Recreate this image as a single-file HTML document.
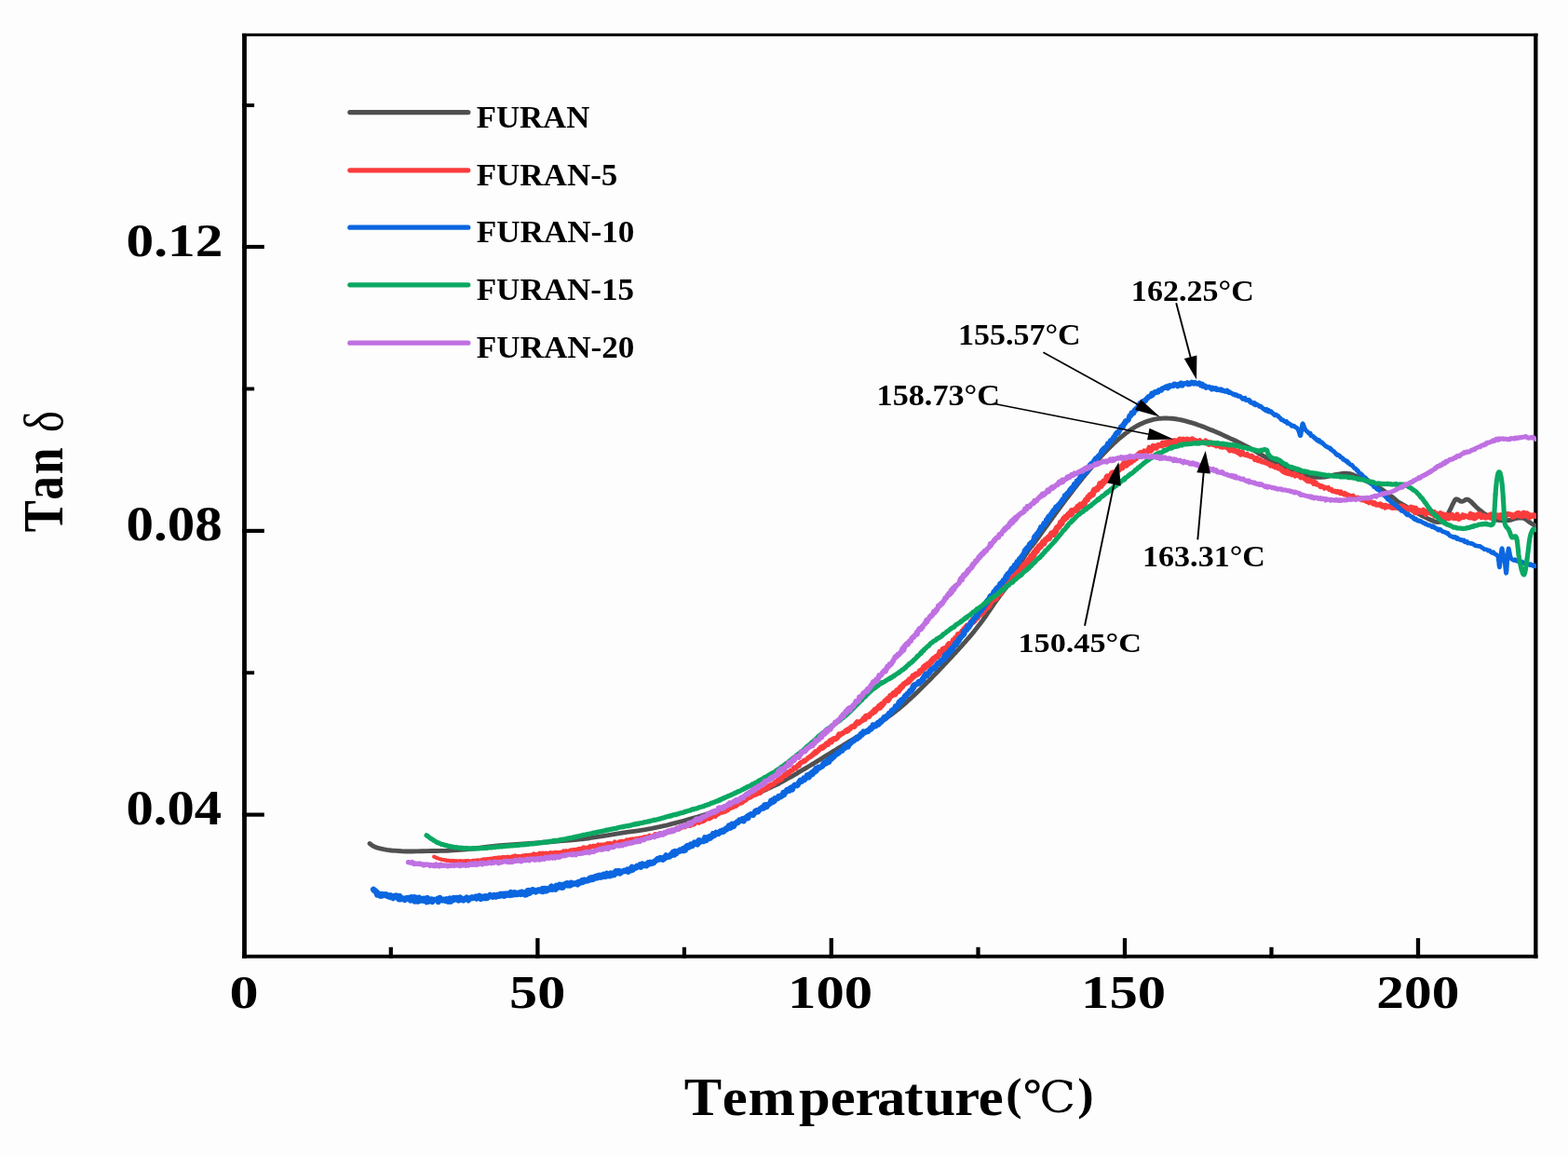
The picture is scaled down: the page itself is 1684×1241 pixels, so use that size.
<!DOCTYPE html>
<html lang="en"><head><meta charset="utf-8"><title>Tan δ vs Temperature</title>
<style>html,body{margin:0;padding:0;background:#fdfdfd;}body{width:1684px;height:1241px;overflow:hidden;}svg{display:block;}</style>
</head><body>
<svg width="1684" height="1241" viewBox="0 0 1684 1241">
<rect width="1684" height="1241" fill="#fdfdfd"/>
<g fill="#000">
<rect x="260.1" y="35.85" width="4.80" height="992.85"/>
<rect x="1647.2" y="35.85" width="4.30" height="992.85"/>
<rect x="260.1" y="35.85" width="1391.40" height="3.10"/>
<rect x="260.1" y="1024.8" width="1391.40" height="3.90"/>
<rect x="260.1" y="262.90" width="23.70" height="4.2"/>
<rect x="260.1" y="567.80" width="23.70" height="4.2"/>
<rect x="260.1" y="872.50" width="23.70" height="4.2"/>
<rect x="260.1" y="111.15" width="13.00" height="3.9"/>
<rect x="260.1" y="415.50" width="13.00" height="3.9"/>
<rect x="260.1" y="720.30" width="13.00" height="3.9"/>
<rect x="575.25" y="1007.1" width="4.3" height="21.60"/>
<rect x="890.65" y="1007.1" width="4.3" height="21.60"/>
<rect x="1205.85" y="1007.1" width="4.3" height="21.60"/>
<rect x="1520.85" y="1007.1" width="4.3" height="21.60"/>
<rect x="417.70" y="1016.8" width="4.2" height="11.90"/>
<rect x="732.80" y="1016.8" width="4.2" height="11.90"/>
<rect x="1048.40" y="1016.8" width="4.2" height="11.90"/>
<rect x="1363.40" y="1016.8" width="4.2" height="11.90"/>
</g>
<g>
<text transform="matrix(0.5934 0 0 0.5132 135.53 275.47)" font-family='"Liberation Serif", serif' font-weight="bold" font-size="100" fill="#000">0.12</text>
<text transform="matrix(0.5899 0 0 0.5209 135.54 580.36)" font-family='"Liberation Serif", serif' font-weight="bold" font-size="100" fill="#000">0.08</text>
<text transform="matrix(0.5864 0 0 0.5209 135.55 885.06)" font-family='"Liberation Serif", serif' font-weight="bold" font-size="100" fill="#000">0.04</text>
<text transform="matrix(0.6214 0 0 0.5060 246.51 1082.29)" font-family='"Liberation Serif", serif' font-weight="bold" font-size="100" fill="#000">0</text>
<text transform="matrix(0.6011 0 0 0.5060 547.10 1082.29)" font-family='"Liberation Serif", serif' font-weight="bold" font-size="100" fill="#000">50</text>
<text transform="matrix(0.6072 0 0 0.4985 846.04 1082.30)" font-family='"Liberation Serif", serif' font-weight="bold" font-size="100" fill="#000">100</text>
<text transform="matrix(0.6072 0 0 0.4985 1161.04 1082.30)" font-family='"Liberation Serif", serif' font-weight="bold" font-size="100" fill="#000">150</text>
<text transform="matrix(0.5937 0 0 0.5060 1478.33 1082.29)" font-family='"Liberation Serif", serif' font-weight="bold" font-size="100" fill="#000">200</text>
</g>
<text transform="matrix(0.6058 0 0 0.5616 0 1196.61)" font-family='"Liberation Serif", serif' font-weight="bold" font-size="100" fill="#000"><tspan x="1212.96 1280.66 1326.36 1416.39 1471.89 1516.12 1554.97 1603.08 1638.14 1692.49 1734.33" y="0">Temperature</tspan><tspan x="1783.23" y="-9.91" font-size="86">(</tspan><tspan x="1813.14" y="-4.43" font-family='"DejaVu Serif", "Noto Serif CJK SC", serif' font-weight="normal" font-size="84">℃</tspan><tspan x="1910.28" y="-9.91" font-size="86">)</tspan></text>
<text transform="matrix(0 -0.5117 0.6136 0 66.79 0)" font-family='"Liberation Serif", serif' font-weight="bold" font-size="100" fill="#000" xml:space="preserve"><tspan x="-1116.18 -1049.06 -994.61 -934.61" y="0">Tan </tspan><tspan x="-906.94" y="-0.20" font-weight="normal" font-size="95">δ</tspan></text>
<line x1="375.8" y1="120.6" x2="502.8" y2="120.6" stroke="#505050" stroke-width="5.2" stroke-linecap="round"/>
<text transform="matrix(0.3476 0 0 0.3273 511.70 136.70)" font-family='"Liberation Serif", serif' font-weight="bold" font-size="100" fill="#000">FURAN</text>
<line x1="375.8" y1="182.8" x2="502.8" y2="182.8" stroke="#fb3c3c" stroke-width="5.2" stroke-linecap="round"/>
<text transform="matrix(0.3500 0 0 0.3273 511.70 198.90)" font-family='"Liberation Serif", serif' font-weight="bold" font-size="100" fill="#000">FURAN-5</text>
<line x1="375.8" y1="244.2" x2="502.8" y2="244.2" stroke="#0b66e0" stroke-width="5.2" stroke-linecap="round"/>
<text transform="matrix(0.3514 0 0 0.3273 511.70 260.00)" font-family='"Liberation Serif", serif' font-weight="bold" font-size="100" fill="#000">FURAN-10</text>
<line x1="375.8" y1="305.8" x2="502.8" y2="305.8" stroke="#0aa862" stroke-width="5.2" stroke-linecap="round"/>
<text transform="matrix(0.3506 0 0 0.3273 511.70 322.00)" font-family='"Liberation Serif", serif' font-weight="bold" font-size="100" fill="#000">FURAN-15</text>
<line x1="375.8" y1="368.2" x2="502.8" y2="368.2" stroke="#bf70e2" stroke-width="5.2" stroke-linecap="round"/>
<text transform="matrix(0.3514 0 0 0.3273 511.70 383.90)" font-family='"Liberation Serif", serif' font-weight="bold" font-size="100" fill="#000">FURAN-20</text>
<defs><clipPath id="cp"><rect x="262" y="37" width="1388" height="990"/></clipPath></defs>
<g clip-path="url(#cp)" fill="none" stroke-linejoin="round" stroke-linecap="round">
<path d="M397.1 905.6 L398.0 906.3 L399.2 907.2 L400.7 908.2 L402.8 909.2 L405.3 910.1 L408.2 910.9 L411.6 911.7 L415.6 912.4 L420.3 913.0 L425.8 913.4 L431.4 913.8 L437.0 914.0 L442.4 914.0 L447.7 913.9 L453.1 913.7 L458.4 913.6 L463.6 913.5 L468.7 913.5 L474.0 913.4 L479.8 913.2 L486.4 912.8 L493.6 912.3 L501.0 911.7 L508.3 911.0 L515.4 910.2 L522.5 909.3 L529.7 908.5 L536.8 907.7 L543.9 907.1 L551.0 906.6 L558.2 906.1 L565.3 905.6 L572.5 905.1 L579.7 904.6 L586.8 904.0 L593.8 903.5 L600.8 902.9 L607.8 902.4 L614.4 901.8 L620.0 901.3 L623.8 900.9 L626.2 900.7 L628.9 900.3 L633.3 899.7 L640.2 898.6 L648.6 897.3 L657.7 895.8 L666.5 894.4 L674.8 893.2 L683.1 892.1 L691.5 890.8 L699.8 889.4 L708.1 887.7 L716.4 885.8 L724.7 883.7 L733.0 881.5 L741.3 879.2 L749.6 876.9 L758.0 874.3 L766.3 871.5 L774.6 868.4 L783.0 865.0 L791.3 861.5 L799.5 858.0 L808.1 854.2 L817.0 850.2 L825.1 846.5 L831.3 843.6 L834.8 842.0 L836.4 841.2 L837.1 840.7 L838.3 840.0 L840.1 839.1 L841.8 838.1 L843.6 837.2 L845.3 836.2 L847.1 835.2 L848.8 834.3 L850.6 833.3 L852.3 832.3 L854.1 831.3 L855.8 830.3 L857.6 829.2 L859.3 828.2 L861.1 827.2 L862.8 826.2 L864.6 825.1 L866.3 824.1 L868.1 823.0 L869.8 822.0 L871.6 820.9 L873.4 819.8 L875.1 818.8 L876.9 817.7 L878.6 816.6 L880.4 815.6 L882.1 814.5 L883.9 813.4 L885.6 812.3 L887.4 811.2 L889.1 810.2 L890.9 809.1 L892.6 808.0 L894.4 806.9 L896.1 805.8 L897.9 804.8 L899.6 803.7 L901.4 802.6 L903.1 801.6 L904.9 800.5 L906.6 799.4 L908.4 798.4 L910.1 797.3 L911.9 796.2 L913.6 795.2 L915.4 794.2 L917.2 793.1 L918.9 792.1 L920.7 791.0 L922.4 790.0 L924.2 788.9 L925.9 787.9 L927.7 786.8 L929.4 785.7 L931.2 784.7 L932.9 783.6 L934.7 782.5 L936.4 781.4 L938.2 780.3 L939.9 779.1 L941.7 778.0 L943.4 776.8 L945.2 775.7 L946.9 774.5 L948.7 773.3 L950.4 772.1 L952.2 770.8 L953.9 769.6 L955.7 768.3 L957.5 767.0 L959.2 765.6 L961.0 764.3 L962.7 762.9 L964.5 761.5 L966.2 760.1 L968.0 758.6 L969.7 757.1 L971.5 755.6 L973.2 754.1 L975.0 752.5 L976.7 750.9 L978.5 749.3 L980.2 747.7 L982.0 746.1 L983.7 744.4 L985.5 742.7 L987.2 741.0 L989.0 739.3 L990.7 737.6 L992.5 735.8 L994.2 734.1 L996.0 732.3 L997.8 730.5 L999.5 728.7 L1001.3 726.9 L1003.0 725.1 L1004.8 723.3 L1006.5 721.5 L1008.3 719.7 L1010.0 717.8 L1011.8 716.0 L1013.5 714.1 L1015.3 712.3 L1017.0 710.4 L1018.8 708.6 L1020.5 706.7 L1022.3 704.8 L1024.0 702.9 L1025.8 701.0 L1027.5 699.1 L1029.3 697.2 L1031.0 695.2 L1032.8 693.3 L1034.5 691.3 L1036.3 689.4 L1038.0 687.4 L1039.8 685.4 L1041.6 683.3 L1043.3 681.3 L1045.1 679.2 L1046.8 677.0 L1048.6 674.8 L1050.3 672.6 L1052.1 670.3 L1053.8 668.0 L1055.6 665.7 L1057.3 663.2 L1059.1 660.7 L1060.8 658.1 L1062.6 655.6 L1064.3 653.0 L1066.1 650.4 L1067.8 647.9 L1069.6 645.4 L1071.3 643.0 L1073.1 640.6 L1074.8 638.3 L1076.6 635.9 L1078.3 633.5 L1080.1 631.1 L1081.9 628.6 L1083.6 626.0 L1085.4 623.3 L1087.1 620.4 L1088.9 617.4 L1090.6 614.4 L1092.4 611.2 L1094.1 608.0 L1095.9 604.7 L1097.6 601.6 L1099.4 598.7 L1101.1 596.0 L1102.9 593.3 L1104.6 590.8 L1106.4 588.4 L1108.1 586.2 L1109.9 584.1 L1111.6 581.8 L1113.4 579.4 L1115.1 577.0 L1116.9 574.5 L1118.6 572.1 L1120.4 569.6 L1122.2 567.2 L1123.9 564.8 L1125.7 562.3 L1127.4 559.9 L1129.2 557.5 L1130.9 555.1 L1132.7 552.7 L1134.4 550.3 L1136.2 547.9 L1137.9 545.5 L1139.7 543.1 L1141.4 540.8 L1143.2 538.4 L1144.9 536.1 L1146.7 533.8 L1148.4 531.5 L1150.2 529.2 L1151.9 526.9 L1153.7 524.6 L1155.4 522.4 L1157.2 520.1 L1158.9 517.9 L1160.7 515.7 L1162.4 513.5 L1164.2 511.3 L1166.0 509.2 L1167.7 507.1 L1169.5 504.9 L1171.2 502.9 L1173.0 500.8 L1174.7 498.7 L1176.5 496.7 L1178.2 494.7 L1180.0 492.8 L1181.7 490.8 L1183.5 488.9 L1185.2 487.0 L1187.0 485.2 L1188.7 483.4 L1190.5 481.6 L1192.2 479.9 L1194.0 478.2 L1195.7 476.5 L1197.5 474.9 L1199.2 473.3 L1201.0 471.7 L1202.7 470.2 L1204.5 468.8 L1206.3 467.3 L1208.0 466.0 L1209.8 464.6 L1211.5 463.4 L1213.3 462.1 L1215.0 460.9 L1216.8 459.8 L1218.5 458.7 L1220.3 457.7 L1222.0 456.7 L1223.8 455.8 L1225.5 455.0 L1227.3 454.2 L1229.0 453.4 L1230.8 452.7 L1232.5 452.1 L1234.3 451.6 L1236.0 451.1 L1237.8 450.6 L1239.5 450.2 L1241.3 449.9 L1243.0 449.6 L1244.8 449.4 L1246.6 449.2 L1248.3 449.1 L1250.1 449.0 L1251.8 449.0 L1253.6 449.0 L1255.3 449.1 L1257.1 449.2 L1258.8 449.3 L1260.6 449.5 L1262.3 449.7 L1264.1 450.0 L1265.8 450.3 L1267.6 450.6 L1269.3 451.0 L1271.1 451.4 L1272.8 451.8 L1274.6 452.3 L1276.3 452.8 L1278.1 453.3 L1279.8 453.8 L1281.6 454.4 L1283.3 454.9 L1285.1 455.5 L1286.8 456.2 L1288.6 456.8 L1290.4 457.4 L1292.1 458.1 L1293.9 458.8 L1295.6 459.5 L1297.4 460.2 L1299.1 460.9 L1300.9 461.6 L1302.6 462.3 L1304.4 463.1 L1306.1 463.8 L1307.9 464.6 L1309.6 465.3 L1311.4 466.1 L1313.1 466.9 L1314.9 467.7 L1316.6 468.5 L1318.4 469.3 L1320.1 470.1 L1321.9 470.9 L1323.4 471.6 L1324.8 472.2 L1326.5 473.0 L1328.9 474.2 L1332.4 476.0 L1336.7 478.2 L1341.2 480.5 L1345.4 482.7 L1349.0 484.8 L1352.3 486.8 L1355.7 488.9 L1359.6 491.2 L1364.4 493.9 L1369.8 496.8 L1375.2 499.6 L1380.0 502.0 L1383.9 503.9 L1387.4 505.4 L1390.6 506.8 L1394.0 508.0 L1397.6 509.2 L1401.2 510.4 L1404.9 511.3 L1408.5 512.0 L1412.1 512.3 L1415.7 512.4 L1419.2 512.3 L1422.8 512.0 L1426.4 511.4 L1430.1 510.6 L1433.6 509.7 L1437.0 509.1 L1440.1 508.7 L1443.0 508.3 L1445.7 508.2 L1448.4 508.4 L1451.1 509.0 L1453.7 509.9 L1456.1 511.0 L1458.4 512.0 L1460.2 512.8 L1461.7 513.6 L1463.4 514.5 L1465.6 515.6 L1468.7 517.1 L1472.3 518.8 L1476.1 520.6 L1479.8 522.7 L1483.5 525.1 L1487.4 527.8 L1491.0 530.4 L1494.1 532.7 L1496.4 534.5 L1498.1 535.9 L1499.6 537.2 L1501.2 538.4 L1502.8 539.5 L1504.3 540.4 L1506.0 541.4 L1508.3 542.7 L1511.4 544.6 L1515.0 546.8 L1518.9 549.1 L1522.6 551.2 L1526.3 553.2 L1530.2 555.1 L1533.8 556.9 L1536.9 558.3 L1539.2 559.3 L1540.9 560.0 L1542.4 560.4 L1544.0 560.5 L1545.8 560.4 L1547.6 560.2 L1549.4 559.5 L1551.1 558.3 L1552.6 556.4 L1554.0 553.9 L1555.4 551.2 L1556.8 548.4 L1558.3 545.4 L1559.8 542.1 L1561.3 539.1 L1562.5 537.0 L1563.4 536.0 L1564.0 535.8 L1564.6 535.9 L1565.4 536.2 L1566.3 536.6 L1567.4 537.4 L1568.5 538.1 L1569.7 538.4 L1571.1 538.1 L1572.6 537.3 L1574.0 536.5 L1575.4 536.2 L1576.5 536.3 L1577.4 536.7 L1578.4 537.4 L1579.6 538.4 L1581.2 539.9 L1583.0 541.7 L1584.9 543.7 L1586.8 545.5 L1588.6 547.1 L1590.4 548.5 L1592.1 549.9 L1593.9 551.2 L1595.7 552.4 L1597.4 553.5 L1599.2 554.6 L1601.0 555.5 L1602.7 556.4 L1604.3 557.2 L1606.0 557.8 L1608.2 558.3 L1611.0 558.6 L1614.3 558.7 L1617.6 558.7 L1620.5 558.5 L1622.8 558.1 L1624.8 557.5 L1626.7 556.8 L1628.6 556.4 L1630.6 556.1 L1632.7 556.0 L1634.7 556.0 L1636.6 556.4 L1638.3 557.2 L1639.9 558.4 L1641.5 559.7 L1643.1 560.9 L1644.9 562.0 L1646.7 563.2 L1648.4 564.2 L1649.5 564.9" stroke="#505050" stroke-width="4.9"/>
<g stroke="#fb3c3c"><path d="M466.2 919.7 L467.0 920.0 L467.8 920.4 L468.6 920.8 L469.4 921.3 L470.2 921.3 L471.1 921.8 L471.9 922.0 L472.8 922.2 L473.7 922.5 L474.6 922.8 L475.4 923.0 L476.3 923.0 L477.2 923.4 L478.1 923.3 L479.0 923.2 L479.9 923.9 L480.8 923.7 L481.7 923.7 L482.6 924.1 L483.5 924.1 L484.4 924.2 L485.3 924.0 L486.2 924.3 L487.1 924.0 L488.0 924.7 L488.9 924.1 L489.8 924.4 L490.7 924.4 L491.6 924.5 L492.5 924.4 L493.4 924.6 L494.3 924.1 L495.2 924.5 L496.1 924.5 L497.0 924.4 L497.9 924.9 L498.8 924.3 L499.7 924.5 L500.6 924.1 L501.5 924.6 L502.4 924.1 L503.3 924.1 L504.2 924.9 L505.1 924.6 L505.9 924.4 L506.8 924.4 L507.7 923.9 L508.6 923.9 L509.5 924.3 L510.4 923.6 L511.3 924.1 L512.2 923.4 L513.1 923.8 L514.0 923.3 L514.9 924.0 L515.8 923.7 L516.7 923.1 L517.6 922.7 L518.5 922.8 L519.4 922.9" stroke-width="4.13"/><path d="M519.4 922.9 L520.3 922.5 L521.2 922.8 L522.0 922.9 L522.9 922.5 L523.8 922.3 L524.7 922.6 L525.6 922.1 L526.5 922.4 L527.4 921.9 L528.3 922.5 L529.2 921.7 L530.1 921.4 L531.0 921.7 L531.9 921.3 L532.8 921.1 L533.7 921.3 L534.6 921.5 L535.5 920.6 L536.4 921.0 L537.3 920.9 L538.2 920.8 L539.0 921.1 L539.9 920.2 L540.8 920.8 L541.7 920.4 L542.6 920.4 L543.5 920.2 L544.4 920.1 L545.3 919.9 L546.2 920.2 L547.1 920.7 L548.0 920.3 L548.9 920.1 L549.8 919.9 L550.7 919.4 L551.6 919.7 L552.5 920.2 L553.4 918.8 L554.3 919.6 L555.2 919.6 L556.1 919.2 L557.0 919.3 L557.9 919.5 L558.8 919.6 L559.6 919.3 L560.5 919.4 L561.4 918.7 L562.3 918.9 L563.2 918.5 L564.1 918.5 L565.0 918.1 L565.9 918.5 L566.8 918.8 L567.7 918.0 L568.6 918.1 L569.5 918.2 L570.4 917.8 L571.3 918.2 L572.2 917.8 L573.1 917.0" stroke-width="4.66"/><path d="M573.1 917.0 L574.0 917.0 L574.9 917.7 L575.8 917.6 L576.7 917.8 L577.6 917.3 L578.5 917.2 L579.4 916.2 L580.3 917.6 L581.2 916.4 L582.1 917.3 L583.0 916.1 L583.9 916.3 L584.7 916.6 L585.6 916.3 L586.5 916.0 L587.4 916.8 L588.3 916.6 L589.2 916.4 L590.1 916.0 L591.0 915.6 L591.9 915.7 L592.8 915.7 L593.7 915.8 L594.6 916.2 L595.5 915.6 L596.4 915.2 L597.3 915.2 L598.2 916.1 L599.1 915.5 L600.0 915.4 L600.9 915.4 L601.8 915.4 L602.7 915.1 L603.6 915.5 L604.5 915.2 L605.4 913.8 L606.3 914.5 L607.2 915.4 L608.0 913.7 L608.9 914.3 L609.8 914.7 L610.7 913.9 L611.6 914.5 L612.5 913.0 L613.4 912.8 L614.3 913.2 L615.1 912.8 L616.0 912.4 L616.9 913.1 L617.8 912.8 L618.7 912.4 L619.5 912.0 L620.4 912.2 L621.3 911.8 L622.2 911.3 L623.1 911.8 L623.9 911.5 L624.8 911.1 L625.7 911.3 L626.6 910.1" stroke-width="5.01"/><path d="M626.6 910.1 L627.5 910.5 L628.3 910.1 L629.2 910.9 L630.1 910.3 L631.0 910.8 L631.9 910.5 L632.8 909.3 L633.6 908.7 L634.5 909.5 L635.4 908.9 L636.3 908.8 L637.2 908.2 L638.1 908.9 L639.0 908.5 L639.9 908.5 L640.7 908.3 L641.6 907.5 L642.5 906.9 L643.4 907.5 L644.3 907.2 L645.2 907.1 L646.1 907.8 L647.0 907.1 L647.9 907.8 L648.7 906.9 L649.6 907.1 L650.5 906.8 L651.4 906.8 L652.3 905.6 L653.2 906.7 L654.1 906.0 L655.0 905.3 L655.8 906.0 L656.7 905.7 L657.6 906.1 L658.5 905.7 L659.4 905.3 L660.3 904.0 L661.2 905.7 L662.1 905.5 L662.9 904.9 L663.8 904.6 L664.7 904.9 L665.6 903.6 L666.5 904.3 L667.4 903.8 L668.3 903.0 L669.2 903.7 L670.0 903.5 L670.9 904.1 L671.8 903.5 L672.7 901.9 L673.6 901.7 L674.5 902.5 L675.4 902.3 L676.3 901.7 L677.1 901.2 L678.0 901.8 L678.9 901.1 L679.8 901.2" stroke-width="5.05"/><path d="M679.8 901.2 L680.7 902.0 L681.6 901.5 L682.5 900.7 L683.4 900.4 L684.2 900.7 L685.1 901.7 L686.0 900.2 L686.9 901.4 L687.8 899.7 L688.7 899.9 L689.5 900.3 L690.4 899.3 L691.3 899.6 L692.2 898.6 L693.1 899.5 L694.0 899.6 L694.8 898.4 L695.7 898.7 L696.6 898.2 L697.5 897.1 L698.4 899.1 L699.2 898.2 L700.1 898.1 L701.0 897.6 L701.9 897.3 L702.7 898.0 L703.6 895.7 L704.5 896.3 L705.3 896.0 L706.2 895.9 L707.1 896.3 L708.0 895.2 L708.8 894.6 L709.7 894.5 L710.6 895.2 L711.4 895.2 L712.3 894.9 L713.2 895.1 L714.0 893.6 L714.9 894.3 L715.8 893.9 L716.6 893.1 L717.5 892.5 L718.3 893.2 L719.2 892.0 L720.1 892.0 L720.9 891.3 L721.8 892.7 L722.7 891.3 L723.5 890.8 L724.4 890.7 L725.2 890.4 L726.1 890.4 L727.0 889.0 L727.8 889.0 L728.7 889.8 L729.5 889.9 L730.4 888.3 L731.2 888.7 L732.1 888.0" stroke-width="5.09"/><path d="M732.1 888.0 L733.0 887.0 L733.8 887.6 L734.7 886.9 L735.5 887.8 L736.4 886.9 L737.2 886.7 L738.1 885.5 L738.9 886.2 L739.8 884.8 L740.7 885.7 L741.5 886.2 L742.4 884.3 L743.2 885.3 L744.1 885.3 L744.9 884.0 L745.8 884.6 L746.6 883.6 L747.5 883.0 L748.3 881.9 L749.2 882.0 L750.0 881.5 L750.9 883.2 L751.7 881.9 L752.6 881.4 L753.4 880.3 L754.2 881.9 L755.1 879.8 L755.9 881.2 L756.8 880.6 L757.6 879.7 L758.5 878.9 L759.3 878.9 L760.1 877.8 L761.0 878.7 L761.8 879.0 L762.6 878.2 L763.5 877.9 L764.3 876.5 L765.1 876.8 L766.0 875.6 L766.8 875.6 L767.6 876.0 L768.4 876.3 L769.3 874.8 L770.1 874.4 L770.9 872.9 L771.7 873.8 L772.5 872.7 L773.4 872.0 L774.2 871.6 L775.0 872.2 L775.8 871.5 L776.6 871.8 L777.4 870.8 L778.2 870.6 L779.0 871.1 L779.8 870.3 L780.6 869.9 L781.5 869.9 L782.3 868.7" stroke-width="5.13"/><path d="M782.3 868.7 L783.1 867.5 L783.9 867.3 L784.7 866.3 L785.5 867.2 L786.3 866.3 L787.1 866.4 L787.9 866.2 L788.7 864.8 L789.5 865.0 L790.3 865.3 L791.1 864.1 L791.8 864.2 L792.6 863.1 L793.4 862.1 L794.2 862.2 L795.0 860.7 L795.8 862.0 L796.6 860.7 L797.4 861.5 L798.2 859.4 L799.0 859.9 L799.8 859.6 L800.6 858.8 L801.3 858.7 L802.1 857.5 L802.9 856.9 L803.7 856.2 L804.5 856.4 L805.3 855.8 L806.1 856.0 L806.9 855.2 L807.7 854.6 L808.4 854.1 L809.2 852.9 L810.0 853.4 L810.8 853.5 L811.6 851.9 L812.3 852.2 L813.1 852.3 L813.9 851.0 L814.7 851.1 L815.5 850.2 L816.3 851.3 L817.0 850.6 L817.8 850.0 L818.6 848.2 L819.3 848.7 L820.1 847.7 L820.9 847.6 L821.7 846.5 L822.4 846.5 L823.2 845.4 L824.0 845.7 L824.7 846.2 L825.5 843.6 L826.3 843.1 L827.0 843.9 L827.8 843.6 L828.5 842.3 L829.3 842.5" stroke-width="5.17"/><path d="M829.3 842.5 L830.1 841.9 L830.8 841.5 L831.6 841.6 L832.3 839.7 L833.1 840.2 L833.8 839.3 L834.6 838.2 L835.3 838.5 L836.0 836.7 L836.8 836.1 L837.5 837.4 L838.3 835.3 L839.0 836.8 L839.7 835.8 L840.5 834.2 L841.2 833.4 L841.9 832.2 L842.6 832.9 L843.3 831.2 L844.1 832.9 L844.8 830.1 L845.5 830.8 L846.2 828.9 L846.9 829.4 L847.7 830.1 L848.4 828.2 L849.1 827.4 L849.8 827.1 L850.5 827.2 L851.2 827.0 L851.9 825.6 L852.6 824.0 L853.3 824.9 L854.0 824.8 L854.8 824.9 L855.5 823.2 L856.2 822.6 L856.9 821.5 L857.6 821.9 L858.3 822.1 L859.0 819.5 L859.7 819.8 L860.5 818.4 L861.2 818.1 L861.9 818.0 L862.6 817.9 L863.4 816.4 L864.1 816.3 L864.8 817.0 L865.5 815.8 L866.3 815.4 L867.0 814.7 L867.7 813.7 L868.4 813.6 L869.1 813.2 L869.9 812.2 L870.6 812.5 L871.3 811.2 L872.0 811.3 L872.8 810.1" stroke-width="5.21"/><path d="M872.8 810.1 L873.5 810.1 L874.2 808.5 L874.9 808.0 L875.7 807.0 L876.4 808.4 L877.1 807.3 L877.8 806.5 L878.5 806.3 L879.3 804.6 L880.0 804.8 L880.7 803.8 L881.4 802.3 L882.2 802.9 L882.9 801.9 L883.6 803.2 L884.3 800.9 L885.1 800.5 L885.8 801.3 L886.5 799.9 L887.3 798.3 L888.0 799.1 L888.7 797.7 L889.4 799.2 L890.2 796.4 L890.9 796.2 L891.6 794.8 L892.4 795.2 L893.1 796.7 L893.8 794.6 L894.6 793.3 L895.3 793.9 L896.0 792.9 L896.8 792.6 L897.5 793.6 L898.2 793.1 L899.0 792.4 L899.7 791.9 L900.4 789.2 L901.2 788.0 L901.9 789.6 L902.7 788.8 L903.4 788.0 L904.1 787.3 L904.9 787.6 L905.6 786.9 L906.4 786.2 L907.1 785.9 L907.9 784.7 L908.6 784.1 L909.4 785.2 L910.1 783.2 L910.9 784.5 L911.6 783.0 L912.4 782.0 L913.1 782.5 L913.9 780.5 L914.6 780.3 L915.4 779.7 L916.1 779.5 L916.9 779.6" stroke-width="5.44"/><path d="M916.9 779.6 L917.7 780.1 L918.4 778.5 L919.2 776.6 L919.9 776.3 L920.7 774.9 L921.4 776.7 L922.2 776.4 L922.9 775.4 L923.7 774.9 L924.4 774.6 L925.2 774.0 L925.9 773.7 L926.7 772.8 L927.4 771.1 L928.2 772.4 L928.9 772.3 L929.6 769.0 L930.4 769.8 L931.1 768.4 L931.8 769.4 L932.6 768.2 L933.3 769.3 L934.0 768.4 L934.8 766.4 L935.5 765.9 L936.2 765.2 L936.9 765.8 L937.6 763.8 L938.3 764.5 L939.0 762.2 L939.7 764.0 L940.4 762.9 L941.1 760.7 L941.8 760.5 L942.5 760.9 L943.2 760.4 L943.9 757.8 L944.6 759.2 L945.3 759.8 L945.9 757.3 L946.6 755.8 L947.3 757.8 L947.9 756.2 L948.6 755.5 L949.3 755.4 L949.9 752.9 L950.6 752.9 L951.2 751.8 L951.9 751.2 L952.6 751.4 L953.2 750.0 L953.9 752.1 L954.5 750.4 L955.2 750.1 L955.9 747.0 L956.5 747.8 L957.2 747.2 L957.8 747.0 L958.5 746.6 L959.2 744.8" stroke-width="5.67"/><path d="M959.2 744.8 L959.8 744.0 L960.5 745.3 L961.2 745.6 L961.8 745.0 L962.5 742.3 L963.2 741.2 L963.8 741.6 L964.5 741.2 L965.2 742.0 L965.9 739.3 L966.5 738.2 L967.2 739.5 L967.9 737.0 L968.6 736.3 L969.3 737.2 L969.9 735.8 L970.6 734.3 L971.3 734.6 L972.0 733.8 L972.7 733.4 L973.4 732.3 L974.0 733.1 L974.7 731.6 L975.4 730.7 L976.1 731.9 L976.8 729.2 L977.5 730.4 L978.2 729.6 L978.9 728.1 L979.5 728.1 L980.2 725.7 L980.9 727.0 L981.6 725.0 L982.3 724.6 L983.0 725.2 L983.7 723.6 L984.3 723.9 L985.0 723.7 L985.7 723.8 L986.4 722.5 L987.1 722.6 L987.8 720.1 L988.5 719.9 L989.1 720.4 L989.8 720.4 L990.5 719.0 L991.2 717.4 L991.9 716.2 L992.6 715.7 L993.2 717.4 L993.9 714.5 L994.6 714.7 L995.3 715.1 L996.0 714.3 L996.6 712.4 L997.3 714.6 L998.0 712.2 L998.7 711.7 L999.3 711.7 L1000.0 709.9" stroke-width="5.89"/><path d="M1000.0 709.9 L1000.7 710.4 L1001.3 708.9 L1002.0 707.5 L1002.7 706.8 L1003.3 707.7 L1004.0 706.7 L1004.7 705.8 L1005.3 704.9 L1006.0 704.5 L1006.7 705.1 L1007.3 704.8 L1008.0 702.7 L1008.7 702.7 L1009.3 699.8 L1010.0 699.9 L1010.6 699.8 L1011.3 698.9 L1012.0 700.1 L1012.6 696.7 L1013.3 698.6 L1013.9 698.2 L1014.6 698.9 L1015.2 695.7 L1015.9 696.1 L1016.6 696.7 L1017.2 695.4 L1017.9 692.7 L1018.5 692.8 L1019.2 691.2 L1019.8 692.0 L1020.5 692.1 L1021.1 692.2 L1021.8 690.7 L1022.4 690.4 L1023.1 690.0 L1023.7 687.2 L1024.4 688.3 L1025.0 688.0 L1025.6 686.1 L1026.3 684.6 L1026.9 685.2 L1027.6 684.6 L1028.2 684.5 L1028.9 681.1 L1029.5 682.1 L1030.1 683.9 L1030.8 682.7 L1031.4 680.4 L1032.1 679.6 L1032.7 679.0 L1033.3 677.6 L1034.0 677.6 L1034.6 677.4 L1035.2 675.4 L1035.9 676.1 L1036.5 675.8 L1037.1 673.4 L1037.8 673.7 L1038.4 671.9 L1039.0 673.0" stroke-width="6.02"/><path d="M1039.0 673.0 L1039.7 672.6 L1040.3 671.1 L1040.9 671.1 L1041.6 671.0 L1042.2 670.5 L1042.8 667.6 L1043.5 668.1 L1044.1 666.2 L1044.7 665.2 L1045.3 667.7 L1046.0 666.7 L1046.6 666.7 L1047.2 665.5 L1047.8 663.4 L1048.5 663.5 L1049.1 662.0 L1049.7 663.5 L1050.3 659.3 L1051.0 661.2 L1051.6 659.4 L1052.2 660.2 L1052.8 660.1 L1053.5 657.4 L1054.1 659.0 L1054.7 658.0 L1055.3 654.4 L1055.9 657.5 L1056.6 653.5 L1057.2 652.7 L1057.8 654.6 L1058.4 652.1 L1059.0 652.5 L1059.6 651.5 L1060.3 649.8 L1060.9 652.1 L1061.5 651.3 L1062.1 649.0 L1062.7 650.1 L1063.3 647.6 L1064.0 647.3 L1064.6 646.0 L1065.2 644.2 L1065.8 644.6 L1066.4 643.3 L1067.0 644.1 L1067.6 643.2 L1068.2 641.7 L1068.9 643.2 L1069.5 641.5 L1070.1 642.4 L1070.7 639.3 L1071.3 638.6 L1071.9 637.5 L1072.5 638.0 L1073.1 636.9 L1073.7 636.4 L1074.3 637.7 L1074.9 636.0 L1075.5 633.7 L1076.2 634.2" stroke-width="6.05"/><path d="M1076.2 634.2 L1076.8 632.8 L1077.4 632.1 L1078.0 631.5 L1078.6 631.1 L1079.2 631.1 L1079.8 630.9 L1080.4 629.1 L1081.0 627.5 L1081.6 627.7 L1082.2 626.8 L1082.8 626.1 L1083.4 624.3 L1084.0 624.9 L1084.6 622.3 L1085.2 625.2 L1085.8 623.9 L1086.4 623.2 L1087.0 620.6 L1087.6 621.3 L1088.2 621.8 L1088.8 619.4 L1089.4 617.8 L1090.0 618.2 L1090.6 615.6 L1091.2 618.1 L1091.8 616.8 L1092.4 614.1 L1093.0 615.8 L1093.6 615.6 L1094.2 614.4 L1094.8 613.7 L1095.4 614.0 L1095.9 611.8 L1096.5 612.5 L1097.1 610.0 L1097.7 608.8 L1098.3 608.5 L1098.9 607.0 L1099.5 608.0 L1100.1 606.0 L1100.7 606.6 L1101.3 605.9 L1101.9 606.7 L1102.5 606.2 L1103.0 602.8 L1103.6 602.6 L1104.2 601.9 L1104.8 600.7 L1105.4 602.8 L1106.0 601.5 L1106.6 599.1 L1107.2 597.1 L1107.8 597.3 L1108.3 597.4 L1108.9 598.5 L1109.5 594.5 L1110.1 596.9 L1110.7 592.9 L1111.3 594.3 L1111.9 591.9" stroke-width="6.09"/><path d="M1111.9 591.9 L1112.4 592.1 L1113.0 589.8 L1113.6 591.9 L1114.2 590.5 L1114.8 588.6 L1115.4 587.0 L1115.9 588.3 L1116.5 587.7 L1117.1 585.4 L1117.7 586.9 L1118.3 585.5 L1118.9 583.7 L1119.5 583.4 L1120.1 581.6 L1120.7 583.9 L1121.3 583.5 L1121.9 581.5 L1122.5 579.6 L1123.2 579.1 L1123.8 579.4 L1124.4 578.1 L1125.1 578.8 L1125.7 576.8 L1126.3 578.2 L1127.0 578.0 L1127.7 575.3 L1128.3 574.4 L1129.0 572.7 L1129.7 574.3 L1130.4 574.1 L1131.1 572.0 L1131.8 573.8 L1132.4 571.0 L1133.0 569.8 L1133.6 571.4 L1134.1 570.3 L1134.6 566.9 L1135.2 567.5 L1135.7 566.0 L1136.1 566.5 L1136.6 566.2 L1137.1 564.7 L1137.6 564.7 L1138.0 564.8 L1138.5 562.6 L1139.0 560.7 L1139.5 560.3 L1140.0 561.7 L1140.5 562.0 L1141.1 559.0 L1141.6 559.0 L1142.2 556.9 L1142.8 556.5 L1143.4 557.6 L1144.0 555.2 L1144.6 555.4 L1145.3 554.7 L1145.9 555.3 L1146.5 553.6 L1147.2 552.6" stroke-width="6.12"/><path d="M1147.2 552.6 L1147.9 551.7 L1148.6 550.9 L1149.3 552.2 L1150.0 552.6 L1150.8 548.1 L1151.5 550.7 L1152.3 547.8 L1153.1 547.8 L1153.8 547.6 L1154.5 547.0 L1155.3 546.5 L1156.0 545.7 L1156.7 548.0 L1157.5 543.7 L1158.2 544.1 L1158.9 543.4 L1159.6 544.0 L1160.3 541.7 L1161.0 542.6 L1161.7 542.1 L1162.3 543.5 L1162.9 541.5 L1163.6 540.0 L1164.2 539.6 L1164.8 540.9 L1165.4 538.0 L1166.0 536.7 L1166.6 536.1 L1167.3 535.7 L1167.9 536.5 L1168.5 533.6 L1169.1 533.5 L1169.7 533.4 L1170.3 531.7 L1170.9 532.9 L1171.5 531.0 L1172.1 531.4 L1172.7 530.7 L1173.3 531.2 L1173.9 530.8 L1174.5 527.1 L1175.1 525.9 L1175.7 525.4 L1176.3 526.7 L1176.9 526.1 L1177.5 524.8 L1178.2 524.1 L1178.8 525.3 L1179.4 523.9 L1180.1 522.5 L1180.7 522.3 L1181.3 519.2 L1182.0 521.7 L1182.6 521.9 L1183.3 519.3 L1183.9 518.0 L1184.6 519.3 L1185.2 516.7 L1185.9 516.7 L1186.6 516.7" stroke-width="6.15"/><path d="M1186.6 516.7 L1187.2 515.2 L1187.9 515.6 L1188.6 512.1 L1189.2 511.5 L1189.9 513.9 L1190.6 513.1 L1191.3 512.1 L1192.0 510.8 L1192.6 510.7 L1193.3 510.6 L1194.0 508.2 L1194.7 509.2 L1195.4 507.5 L1196.1 510.0 L1196.8 507.7 L1197.5 507.0 L1198.2 507.3 L1198.9 506.7 L1199.6 506.1 L1200.3 503.7 L1201.0 504.1 L1201.8 504.4 L1202.5 503.1 L1203.2 502.4 L1203.9 501.0 L1204.6 501.4 L1205.3 502.3 L1206.1 498.7 L1206.8 497.9 L1207.5 497.6 L1208.3 496.7 L1209.0 499.5 L1209.7 499.6 L1210.5 497.5 L1211.2 496.5 L1211.9 497.6 L1212.7 496.7 L1213.4 492.8 L1214.2 494.3 L1214.9 496.1 L1215.7 492.9 L1216.4 492.1 L1217.2 491.7 L1217.9 493.8 L1218.7 490.9 L1219.5 491.5 L1220.2 491.9 L1221.0 490.3 L1221.8 489.6 L1222.5 487.9 L1223.3 487.2 L1224.1 489.5 L1224.9 486.2 L1225.6 488.6 L1226.4 488.3 L1227.2 488.2 L1228.0 485.8 L1228.8 484.6 L1229.6 485.3 L1230.4 486.3" stroke-width="6.19"/><path d="M1230.4 486.3 L1231.2 485.0 L1232.0 484.5 L1232.8 483.4 L1233.6 484.2 L1234.4 480.6 L1235.2 481.0 L1236.1 483.8 L1236.9 482.1 L1237.7 482.0 L1238.5 478.8 L1239.3 479.5 L1240.2 479.7 L1241.0 479.7 L1241.8 480.8 L1242.7 478.5 L1243.5 479.0 L1244.4 477.7 L1245.2 478.0 L1246.1 478.3 L1246.9 478.1 L1247.8 478.4 L1248.6 475.6 L1249.5 477.6 L1250.3 477.0 L1251.2 475.4 L1252.1 477.4 L1252.9 475.0 L1253.8 475.1 L1254.7 475.9 L1255.5 476.6 L1256.4 474.4 L1257.3 476.3 L1258.2 474.9 L1259.1 473.5 L1259.9 474.9 L1260.8 474.0 L1261.7 473.0 L1262.6 473.5 L1263.5 474.9 L1264.4 473.8 L1265.3 473.0 L1266.2 474.1 L1267.1 471.6 L1268.0 473.7 L1268.9 474.4 L1269.8 471.7 L1270.7 471.7 L1271.5 471.9 L1272.4 472.6 L1273.3 472.0 L1274.2 472.7 L1275.1 471.7 L1276.0 473.0 L1276.9 473.3 L1277.8 473.2 L1278.7 472.2 L1279.6 473.7 L1280.5 471.3 L1281.4 472.3 L1282.3 472.9" stroke-width="5.93"/><path d="M1282.3 472.9 L1283.2 474.4 L1284.1 472.8 L1285.0 473.9 L1285.9 475.0 L1286.8 475.3 L1287.7 475.3 L1288.6 472.9 L1289.5 474.1 L1290.4 474.5 L1291.3 474.8 L1292.2 474.8 L1293.0 474.3 L1293.9 474.6 L1294.8 473.3 L1295.7 475.6 L1296.6 475.4 L1297.5 474.7 L1298.3 477.2 L1299.2 475.7 L1300.1 475.2 L1301.0 476.6 L1301.8 476.7 L1302.7 477.1 L1303.6 476.6 L1304.5 477.7 L1305.3 477.3 L1306.2 478.6 L1307.1 478.0 L1307.9 477.1 L1308.8 477.2 L1309.7 478.9 L1310.5 479.5 L1311.4 477.6 L1312.2 479.8 L1313.1 479.4 L1314.0 480.0 L1314.8 479.3 L1315.7 479.3 L1316.5 480.0 L1317.4 480.1 L1318.2 480.8 L1319.1 481.5 L1319.9 481.8 L1320.8 483.7 L1321.6 481.5 L1322.5 482.2 L1323.3 483.0 L1324.2 483.8 L1325.0 482.6 L1325.9 482.6 L1326.7 484.4 L1327.5 484.8 L1328.4 485.3 L1329.2 485.7 L1330.1 484.1 L1330.9 486.7 L1331.8 486.0 L1332.6 488.0 L1333.4 486.4 L1334.3 485.5" stroke-width="5.55"/><path d="M1334.3 485.5 L1335.1 487.2 L1336.0 487.8 L1336.8 488.2 L1337.7 488.5 L1338.5 488.2 L1339.4 487.5 L1340.2 489.1 L1341.0 489.3 L1341.9 489.3 L1342.7 490.2 L1343.6 490.3 L1344.4 489.3 L1345.2 490.5 L1346.1 490.8 L1346.9 491.6 L1347.7 493.4 L1348.6 492.4 L1349.4 493.2 L1350.2 491.7 L1351.1 494.5 L1351.9 493.4 L1352.7 494.6 L1353.6 493.7 L1354.4 494.8 L1355.2 495.9 L1356.1 495.5 L1356.9 496.1 L1357.7 495.6 L1358.6 496.0 L1359.4 497.1 L1360.2 497.1 L1361.1 497.7 L1361.9 497.4 L1362.8 497.9 L1363.6 499.2 L1364.4 500.0 L1365.3 498.9 L1366.1 499.0 L1366.9 500.0 L1367.8 500.9 L1368.6 500.8 L1369.5 501.7 L1370.3 501.0 L1371.1 500.8 L1372.0 500.4 L1372.8 502.9 L1373.6 502.8 L1374.4 502.5 L1375.2 503.7 L1376.0 503.0 L1376.7 505.2 L1377.4 505.8 L1378.2 506.4 L1379.0 505.5 L1379.8 507.3 L1380.7 507.2 L1381.5 508.0 L1382.4 505.7 L1383.2 508.1 L1384.1 508.6" stroke-width="5.28"/><path d="M1384.1 508.6 L1385.0 507.6 L1385.8 508.8 L1386.7 508.4 L1387.6 509.7 L1388.4 508.6 L1389.3 509.1 L1390.2 508.3 L1391.0 511.0 L1391.9 509.2 L1392.7 509.3 L1393.6 509.7 L1394.4 510.7 L1395.3 511.1 L1396.1 511.7 L1396.9 512.9 L1397.8 512.8 L1398.6 511.3 L1399.4 512.9 L1400.2 513.0 L1401.0 514.1 L1401.9 514.0 L1402.7 515.3 L1403.5 514.8 L1404.3 516.5 L1405.1 514.7 L1405.9 516.7 L1406.7 516.9 L1407.6 516.0 L1408.4 515.9 L1409.2 516.8 L1410.0 518.0 L1410.8 519.4 L1411.7 517.3 L1412.5 518.6 L1413.3 518.2 L1414.1 520.2 L1414.9 520.1 L1415.7 520.4 L1416.6 521.3 L1417.4 521.3 L1418.2 522.6 L1419.0 521.6 L1419.9 521.7 L1420.7 522.5 L1421.5 522.8 L1422.3 524.2 L1423.2 523.3 L1424.0 523.5 L1424.9 523.7 L1425.7 523.9 L1426.5 523.4 L1427.4 525.3 L1428.2 525.8 L1429.1 525.9 L1429.9 525.5 L1430.8 527.1 L1431.6 527.2 L1432.5 527.1 L1433.3 527.7 L1434.2 527.4" stroke-width="5.16"/><path d="M1434.2 527.4 L1435.0 528.1 L1435.9 528.5 L1436.8 527.4 L1437.6 528.2 L1438.5 528.3 L1439.3 529.5 L1440.2 528.0 L1441.1 529.9 L1441.9 529.9 L1442.8 530.1 L1443.6 530.8 L1444.5 529.5 L1445.4 531.1 L1446.2 530.6 L1447.1 531.0 L1448.0 532.8 L1448.8 531.7 L1449.7 533.1 L1450.5 532.5 L1451.4 532.5 L1452.3 532.7 L1453.1 532.1 L1454.0 533.3 L1454.9 533.9 L1455.7 535.1 L1456.6 534.9 L1457.4 535.2 L1458.3 534.1 L1459.2 534.5 L1460.0 535.6 L1460.9 536.0 L1461.7 535.0 L1462.6 536.9 L1463.5 535.9 L1464.3 536.8 L1465.2 536.5 L1466.1 537.7 L1466.9 538.1 L1467.8 538.5 L1468.6 537.2 L1469.5 538.3 L1470.4 539.9 L1471.2 538.7 L1472.1 539.3 L1473.0 539.3 L1473.8 539.1 L1474.7 541.1 L1475.5 541.2 L1476.4 539.7 L1477.3 540.9 L1478.1 542.2 L1479.0 541.4 L1479.9 541.3 L1480.7 542.3 L1481.6 542.4 L1482.5 541.0 L1483.3 541.5 L1484.2 543.8 L1485.1 542.2 L1485.9 542.9" stroke-width="5.05"/><path d="M1485.9 542.9 L1486.8 542.6 L1487.7 545.0 L1488.5 542.5 L1489.4 544.0 L1490.3 543.7 L1491.2 544.0 L1492.1 543.3 L1492.9 543.8 L1493.8 544.6 L1494.7 545.1 L1495.6 543.1 L1496.5 545.1 L1497.4 544.2 L1498.3 545.1 L1499.2 544.7 L1500.1 545.1 L1501.0 544.9 L1501.9 545.7 L1502.8 545.2 L1503.7 543.3 L1504.6 543.1 L1505.5 543.6 L1506.4 545.7 L1507.3 543.4 L1508.2 544.3 L1509.1 547.9 L1510.0 545.3 L1510.9 545.7 L1511.7 546.5 L1512.6 547.0 L1513.5 545.8 L1514.4 546.7 L1515.3 544.4 L1516.1 547.4 L1517.0 548.0 L1517.9 545.0 L1518.8 548.8 L1519.7 550.3 L1520.5 545.4 L1521.4 547.9 L1522.3 550.3 L1523.2 549.5 L1524.1 547.7 L1524.9 548.0 L1525.8 548.5 L1526.7 550.1 L1527.6 548.2 L1528.5 547.5 L1529.4 549.9 L1530.2 548.8 L1531.1 552.4 L1532.0 548.8 L1532.9 550.8 L1533.8 550.3 L1534.7 548.7 L1535.5 550.2 L1536.4 548.6 L1537.3 551.8 L1538.2 550.1 L1539.1 549.9" stroke-width="5.49"/><path d="M1539.1 549.9 L1540.0 549.7 L1540.8 554.0 L1541.7 553.0 L1542.6 551.1 L1543.5 552.4 L1544.3 553.7 L1545.2 553.8 L1546.1 553.2 L1547.0 550.9 L1547.9 555.9 L1548.8 553.5 L1549.6 555.8 L1550.5 552.2 L1551.4 555.2 L1552.3 556.1 L1553.2 555.9 L1554.1 552.7 L1555.0 554.1 L1555.9 556.7 L1556.8 553.4 L1557.7 555.6 L1558.6 554.4 L1559.5 552.6 L1560.4 556.1 L1561.3 556.3 L1562.2 555.7 L1563.1 555.1 L1564.0 556.2 L1564.9 552.3 L1565.8 554.7 L1566.7 557.1 L1567.6 555.4 L1568.5 556.2 L1569.4 554.3 L1570.3 555.1 L1571.2 553.0 L1572.1 555.2 L1573.0 554.8 L1573.9 553.9 L1574.8 554.3 L1575.7 554.4 L1576.6 554.5 L1577.5 555.3 L1578.4 555.6 L1579.3 551.6 L1580.2 554.4 L1581.1 555.7 L1582.0 552.5 L1582.9 553.8 L1583.8 556.6 L1584.7 553.2 L1585.6 555.5 L1586.5 554.4 L1587.4 552.1 L1588.3 553.8 L1589.2 551.6 L1590.1 553.6 L1591.0 555.4 L1591.9 555.0 L1592.8 554.5" stroke-width="5.60"/><path d="M1592.8 554.5 L1593.7 553.4 L1594.6 555.0 L1595.5 555.8 L1596.4 555.1 L1597.3 555.4 L1598.2 554.6 L1599.1 554.5 L1600.0 552.6 L1600.9 555.9 L1601.8 552.2 L1602.7 552.4 L1603.6 552.6 L1604.5 552.5 L1605.4 555.4 L1606.3 553.2 L1607.2 553.1 L1608.1 553.0 L1609.0 553.4 L1609.9 555.2 L1610.8 555.5 L1611.7 552.8 L1612.6 555.8 L1613.5 554.2 L1614.4 553.8 L1615.3 555.2 L1616.2 553.6 L1617.1 553.9 L1618.0 553.6 L1618.9 551.8 L1619.8 551.7 L1620.7 552.0 L1621.6 552.2 L1622.5 552.5 L1623.4 552.6 L1624.3 554.8 L1625.2 553.3 L1626.1 554.3 L1627.0 553.7 L1627.9 552.0 L1628.8 552.7 L1629.7 551.0 L1630.6 550.7 L1631.5 553.6 L1632.4 553.0 L1633.3 553.1 L1634.2 554.4 L1635.1 551.1 L1636.0 552.8 L1636.9 550.5 L1637.8 551.8 L1638.7 553.9 L1639.6 551.0 L1640.5 551.3 L1641.3 552.8 L1642.2 555.6 L1643.1 554.4 L1644.0 553.2 L1644.9 554.4 L1645.8 553.7 L1646.7 553.1" stroke-width="5.60"/><path d="M1646.7 553.1 L1647.6 553.0 L1648.5 554.1 L1649.4 553.9 L1649.5 554.3" stroke-width="5.60"/></g>
<g stroke="#0b66e0"><path d="M401.1 954.8 L401.8 955.8 L402.4 955.7 L403.1 957.0 L403.7 957.0 L404.4 957.6 L405.1 960.5 L405.8 959.2 L406.6 959.4 L407.4 960.7 L408.1 961.6 L409.0 960.6 L409.8 961.6 L410.7 960.0 L411.6 961.0 L412.4 961.1 L413.3 960.3 L414.2 960.2 L415.1 960.3 L416.0 962.0 L416.9 962.2 L417.8 962.2 L418.7 962.8 L419.5 961.3 L420.4 962.9 L421.3 963.4 L422.2 964.1 L423.1 962.4 L424.0 963.0 L424.9 961.6 L425.8 963.2 L426.7 961.8 L427.6 962.4 L428.5 965.3 L429.3 962.2 L430.2 965.2 L431.1 964.8 L432.0 964.2 L432.9 965.1 L433.8 965.3 L434.7 966.0 L435.6 964.6 L436.5 964.3 L437.4 964.3 L438.3 964.0 L439.2 965.1 L440.1 964.3 L441.0 966.5 L441.9 963.3 L442.8 964.2 L443.7 964.4 L444.6 963.5 L445.5 967.6 L446.4 963.5 L447.3 965.3 L448.2 965.1 L449.1 967.6 L450.0 963.7 L450.9 967.0 L451.8 965.0 L452.7 965.7" stroke-width="6.38"/><path d="M452.7 965.7 L453.6 965.1 L454.5 966.7 L455.4 964.7 L456.3 965.9 L457.2 966.4 L458.1 968.1 L459.0 964.1 L459.9 967.8 L460.8 967.2 L461.7 965.6 L462.6 966.5 L463.5 965.7 L464.4 968.0 L465.3 966.4 L466.2 965.9 L467.1 965.9 L468.0 965.9 L468.9 966.0 L469.8 965.2 L470.7 968.1 L471.6 964.1 L472.5 964.0 L473.4 965.9 L474.3 965.8 L475.2 966.4 L476.1 965.7 L477.0 965.7 L477.9 966.2 L478.8 966.9 L479.7 965.3 L480.6 965.4 L481.5 967.8 L482.4 966.3 L483.3 964.6 L484.2 967.7 L485.1 966.5 L486.0 964.9 L486.9 964.2 L487.8 965.8 L488.7 964.5 L489.6 964.2 L490.5 963.9 L491.4 964.8 L492.3 966.5 L493.2 964.8 L494.1 963.6 L495.0 965.9 L495.9 965.2 L496.8 966.0 L497.6 966.4 L498.5 964.8 L499.4 964.8 L500.3 964.9 L501.2 963.6 L502.1 965.6 L503.0 966.3 L503.9 965.0 L504.8 964.5 L505.7 964.4 L506.6 963.7" stroke-width="6.35"/><path d="M506.6 963.7 L507.5 963.7 L508.4 964.0 L509.3 963.5 L510.2 963.8 L511.1 962.5 L512.0 964.6 L512.9 964.1 L513.8 962.7 L514.7 961.9 L515.6 963.8 L516.5 964.9 L517.4 962.8 L518.3 963.0 L519.2 962.8 L520.1 964.0 L521.0 962.2 L521.9 964.2 L522.8 962.6 L523.6 963.9 L524.5 962.7 L525.4 962.3 L526.3 960.8 L527.2 961.6 L528.1 961.9 L529.0 962.8 L529.9 962.2 L530.8 961.0 L531.6 962.1 L532.5 962.6 L533.4 961.2 L534.3 960.7 L535.2 960.7 L536.1 961.9 L537.0 961.5 L537.9 959.8 L538.8 961.1 L539.7 960.1 L540.6 959.7 L541.5 961.9 L542.4 961.3 L543.3 959.6 L544.2 960.4 L545.1 960.8 L546.0 959.5 L546.9 960.0 L547.8 960.8 L548.7 958.0 L549.6 960.3 L550.5 960.7 L551.4 960.3 L552.3 958.2 L553.1 960.0 L554.0 958.6 L554.9 960.1 L555.8 960.0 L556.7 959.5 L557.6 958.3 L558.5 958.4 L559.4 959.9 L560.3 957.9" stroke-width="6.32"/><path d="M560.3 957.9 L561.2 959.4 L562.1 959.3 L563.0 958.3 L563.9 960.5 L564.8 958.4 L565.7 960.2 L566.6 956.1 L567.5 956.0 L568.3 958.9 L569.2 958.4 L570.1 957.2 L571.0 957.3 L571.9 955.2 L572.8 956.3 L573.7 955.7 L574.5 956.5 L575.4 957.5 L576.3 956.4 L577.2 956.6 L578.1 955.3 L579.0 955.4 L579.9 955.9 L580.7 955.3 L581.6 956.8 L582.5 954.3 L583.4 957.1 L584.3 953.9 L585.2 956.0 L586.1 953.9 L587.0 956.4 L587.8 954.6 L588.7 954.7 L589.6 955.0 L590.5 953.3 L591.4 952.7 L592.3 951.7 L593.2 954.8 L594.1 952.6 L594.9 952.5 L595.8 952.9 L596.7 954.7 L597.6 950.7 L598.4 952.6 L599.3 951.7 L600.2 952.5 L601.1 949.8 L601.9 951.1 L602.8 952.2 L603.7 952.8 L604.6 952.6 L605.4 949.8 L606.3 950.5 L607.2 950.2 L608.1 948.6 L609.0 948.3 L609.8 950.5 L610.7 949.8 L611.6 949.2 L612.5 950.5 L613.4 947.9" stroke-width="6.28"/><path d="M613.4 947.9 L614.3 949.4 L615.1 948.7 L616.0 948.4 L616.9 948.8 L617.8 948.3 L618.7 948.2 L619.5 948.0 L620.4 949.4 L621.3 946.9 L622.1 948.1 L623.0 947.4 L623.9 946.1 L624.7 947.1 L625.6 945.0 L626.4 946.9 L627.3 944.6 L628.2 944.6 L629.0 945.3 L629.9 945.6 L630.8 945.5 L631.6 945.2 L632.5 943.8 L633.4 942.7 L634.3 944.2 L635.1 943.7 L636.0 942.1 L636.9 944.0 L637.8 943.0 L638.6 941.5 L639.5 942.8 L640.4 940.7 L641.3 941.0 L642.1 942.2 L643.0 939.9 L643.9 941.4 L644.8 939.7 L645.7 941.7 L646.5 940.0 L647.4 940.8 L648.3 938.8 L649.2 939.8 L650.1 941.0 L650.9 940.3 L651.8 937.6 L652.7 940.4 L653.6 940.1 L654.4 938.6 L655.3 940.3 L656.2 937.4 L657.1 938.3 L657.9 939.3 L658.8 939.3 L659.7 939.1 L660.6 936.3 L661.4 935.4 L662.3 937.5 L663.2 935.3 L664.1 936.5 L664.9 935.0 L665.8 937.3" stroke-width="6.25"/><path d="M665.8 937.3 L666.7 936.8 L667.5 936.3 L668.4 935.5 L669.3 935.3 L670.1 934.7 L671.0 935.2 L671.9 934.8 L672.8 934.8 L673.6 933.6 L674.5 935.8 L675.4 933.9 L676.2 934.8 L677.1 934.5 L678.0 931.9 L678.8 930.8 L679.7 933.7 L680.6 931.7 L681.4 932.0 L682.3 931.3 L683.1 931.5 L684.0 929.8 L684.9 930.7 L685.7 930.1 L686.6 930.3 L687.5 928.1 L688.3 930.7 L689.2 929.9 L690.0 927.4 L690.9 928.2 L691.7 928.8 L692.6 929.1 L693.5 928.1 L694.3 929.3 L695.2 927.6 L696.0 926.2 L696.9 926.3 L697.7 927.5 L698.6 925.8 L699.4 927.0 L700.3 926.9 L701.1 926.1 L702.0 926.3 L702.8 924.7 L703.6 924.5 L704.5 923.6 L705.3 923.3 L706.2 921.9 L707.0 922.7 L707.8 921.8 L708.7 921.1 L709.5 922.4 L710.3 922.4 L711.2 921.2 L712.0 922.7 L712.8 921.9 L713.7 921.7 L714.5 919.6 L715.3 918.3 L716.2 920.1 L717.0 919.5" stroke-width="6.22"/><path d="M717.0 919.5 L717.8 919.6 L718.7 918.9 L719.5 919.5 L720.3 917.5 L721.1 918.1 L722.0 916.1 L722.8 914.8 L723.6 915.9 L724.4 917.6 L725.3 913.9 L726.1 916.3 L726.9 914.2 L727.7 914.1 L728.6 914.2 L729.4 914.0 L730.2 912.4 L731.0 913.2 L731.8 913.2 L732.7 913.2 L733.5 911.2 L734.3 913.2 L735.1 913.1 L735.9 912.7 L736.8 909.1 L737.6 910.3 L738.4 907.9 L739.2 909.8 L740.0 909.6 L740.9 907.4 L741.7 906.6 L742.5 908.1 L743.3 908.2 L744.1 906.3 L744.9 906.5 L745.8 904.5 L746.6 905.2 L747.4 905.7 L748.2 905.4 L749.0 906.5 L749.8 903.2 L750.6 902.2 L751.5 904.1 L752.3 902.6 L753.1 903.2 L753.9 903.2 L754.7 902.7 L755.5 903.2 L756.3 902.7 L757.1 899.2 L757.9 900.5 L758.7 902.0 L759.6 899.3 L760.4 900.3 L761.2 898.9 L762.0 898.1 L762.8 899.8 L763.6 898.8 L764.4 897.1 L765.2 897.9 L766.0 895.2" stroke-width="6.19"/><path d="M766.0 895.2 L766.8 895.4 L767.6 896.7 L768.4 895.4 L769.2 893.8 L770.0 895.0 L770.8 894.5 L771.6 895.1 L772.4 894.3 L773.3 892.6 L774.1 892.0 L774.9 892.0 L775.7 891.5 L776.5 892.8 L777.3 892.5 L778.1 891.9 L778.9 890.4 L779.7 889.4 L780.5 890.2 L781.3 888.5 L782.1 888.7 L782.9 886.3 L783.7 887.1 L784.5 888.7 L785.3 885.7 L786.1 884.8 L786.9 885.7 L787.6 887.2 L788.4 886.6 L789.2 884.3 L790.0 883.7 L790.8 883.7 L791.6 882.4 L792.4 883.0 L793.2 882.2 L794.0 880.5 L794.8 881.0 L795.6 880.9 L796.3 879.9 L797.1 879.2 L797.9 880.8 L798.7 881.3 L799.5 878.7 L800.3 878.1 L801.0 878.6 L801.8 877.4 L802.6 876.4 L803.4 878.2 L804.2 875.2 L804.9 875.1 L805.7 874.7 L806.5 874.0 L807.3 874.2 L808.0 874.6 L808.8 875.0 L809.6 873.8 L810.3 872.7 L811.1 870.9 L811.9 871.6 L812.7 870.2 L813.4 870.6" stroke-width="6.16"/><path d="M813.4 870.6 L814.2 871.3 L815.0 870.0 L815.7 869.1 L816.5 868.1 L817.3 868.4 L818.0 868.0 L818.8 866.5 L819.6 866.4 L820.3 867.4 L821.1 864.3 L821.8 865.1 L822.6 863.9 L823.4 866.2 L824.1 864.7 L824.9 864.1 L825.6 863.5 L826.4 862.9 L827.2 862.5 L827.9 860.0 L828.7 861.4 L829.4 861.3 L830.2 858.7 L830.9 860.5 L831.7 859.9 L832.4 857.2 L833.2 857.7 L833.9 857.4 L834.7 856.7 L835.4 857.1 L836.2 854.9 L836.9 855.5 L837.7 855.4 L838.4 855.4 L839.1 854.2 L839.9 853.4 L840.6 853.9 L841.4 850.8 L842.1 853.1 L842.8 851.3 L843.6 849.8 L844.3 850.1 L845.0 848.2 L845.8 847.7 L846.5 848.7 L847.2 847.7 L848.0 848.7 L848.7 846.5 L849.4 845.6 L850.2 845.4 L850.9 847.6 L851.6 845.3 L852.3 844.1 L853.1 843.2 L853.8 842.6 L854.5 843.0 L855.2 843.1 L856.0 843.3 L856.7 842.8 L857.4 841.3 L858.2 839.9" stroke-width="6.14"/><path d="M858.2 839.9 L858.9 839.1 L859.6 837.7 L860.3 837.9 L861.1 838.8 L861.8 837.6 L862.5 837.7 L863.3 835.5 L864.0 837.2 L864.7 836.1 L865.4 835.3 L866.1 835.1 L866.8 832.3 L867.6 833.0 L868.3 832.1 L869.0 834.3 L869.7 831.8 L870.4 830.9 L871.2 831.7 L871.9 829.3 L872.6 831.2 L873.3 828.5 L874.0 828.6 L874.7 827.2 L875.5 828.4 L876.2 825.2 L876.9 827.2 L877.6 825.1 L878.3 825.4 L879.0 823.7 L879.7 824.5 L880.4 823.9 L881.2 823.8 L881.9 823.0 L882.6 822.7 L883.3 822.5 L884.0 820.6 L884.7 819.2 L885.4 818.6 L886.1 820.0 L886.8 818.4 L887.5 819.3 L888.2 817.7 L888.9 816.1 L889.6 817.4 L890.4 817.8 L891.1 815.2 L891.8 813.9 L892.5 813.4 L893.2 814.6 L893.9 812.6 L894.6 812.2 L895.3 812.7 L896.0 811.5 L896.7 811.1 L897.4 809.8 L898.1 809.2 L898.8 809.4 L899.5 808.9 L900.2 808.7 L900.9 807.1" stroke-width="6.11"/><path d="M900.9 807.1 L901.6 807.4 L902.3 806.9 L903.0 806.0 L903.7 805.9 L904.5 805.8 L905.2 804.4 L905.9 803.7 L906.6 802.1 L907.3 802.9 L908.0 801.9 L908.7 801.1 L909.4 800.1 L910.1 800.9 L910.8 801.6 L911.5 799.7 L912.2 798.8 L913.0 798.6 L913.7 797.0 L914.4 797.1 L915.1 795.8 L915.8 795.3 L916.5 795.6 L917.2 795.1 L917.9 794.2 L918.7 792.9 L919.4 793.4 L920.1 791.6 L920.8 792.9 L921.5 791.2 L922.3 791.0 L923.0 791.3 L923.7 790.5 L924.4 788.1 L925.1 788.6 L925.9 788.7 L926.6 786.7 L927.3 785.5 L928.1 786.7 L928.8 786.2 L929.5 786.1 L930.2 785.3 L931.0 784.8 L931.7 784.4 L932.5 785.0 L933.2 783.6 L933.9 783.1 L934.7 781.7 L935.4 782.7 L936.2 780.9 L936.9 781.3 L937.6 778.3 L938.4 779.8 L939.1 778.9 L939.9 778.1 L940.6 779.3 L941.4 777.9 L942.1 776.9 L942.8 776.0 L943.6 777.7 L944.3 776.2" stroke-width="6.06"/><path d="M944.3 776.2 L945.0 775.6 L945.8 773.6 L946.5 775.1 L947.2 773.9 L947.9 772.5 L948.6 772.1 L949.4 770.1 L950.1 771.8 L950.8 769.5 L951.5 770.8 L952.1 769.0 L952.8 768.2 L953.5 768.6 L954.2 767.8 L954.8 765.9 L955.5 766.3 L956.1 766.4 L956.8 764.9 L957.4 763.2 L958.0 763.6 L958.7 762.3 L959.3 762.0 L959.9 761.9 L960.5 761.2 L961.1 760.4 L961.7 758.3 L962.3 759.6 L962.9 758.3 L963.5 757.5 L964.1 757.3 L964.6 758.2 L965.2 754.5 L965.8 753.5 L966.4 755.2 L967.0 753.0 L967.5 754.3 L968.1 751.4 L968.7 751.2 L969.3 751.8 L969.8 751.1 L970.4 750.0 L971.0 749.3 L971.5 748.0 L972.1 747.1 L972.7 746.6 L973.3 747.3 L973.9 746.1 L974.5 744.8 L975.1 744.4 L975.7 744.2 L976.3 743.9 L976.9 742.0 L977.5 741.4 L978.1 741.1 L978.7 741.9 L979.3 739.7 L980.0 740.0 L980.6 736.7 L981.2 738.3 L981.9 735.5" stroke-width="6.00"/><path d="M981.9 735.5 L982.5 735.2 L983.2 735.0 L983.8 734.9 L984.5 734.6 L985.1 734.1 L985.8 733.4 L986.4 732.1 L987.1 733.7 L987.7 731.7 L988.4 731.3 L989.1 731.8 L989.7 730.4 L990.4 729.4 L991.0 728.6 L991.7 729.4 L992.4 726.0 L993.1 725.5 L993.7 726.0 L994.4 723.5 L995.0 723.9 L995.7 725.1 L996.4 723.0 L997.0 723.0 L997.7 722.9 L998.4 720.5 L999.0 721.2 L999.7 719.8 L1000.3 718.7 L1001.0 718.9 L1001.6 718.5 L1002.3 717.5 L1002.9 716.6 L1003.6 717.6 L1004.2 717.1 L1004.9 715.9 L1005.5 714.7 L1006.2 713.1 L1006.8 712.7 L1007.5 711.8 L1008.1 712.4 L1008.7 712.5 L1009.4 711.8 L1010.0 710.3 L1010.6 709.3 L1011.2 709.2 L1011.9 708.5 L1012.5 708.3 L1013.1 708.4 L1013.7 705.7 L1014.3 707.5 L1014.9 703.4 L1015.5 702.7 L1016.1 702.3 L1016.7 702.1 L1017.3 702.2 L1017.9 703.4 L1018.5 700.4 L1019.1 701.4 L1019.7 699.3 L1020.3 699.1" stroke-width="5.94"/><path d="M1020.3 699.1 L1020.8 697.3 L1021.4 699.3 L1022.0 696.9 L1022.6 695.6 L1023.1 697.2 L1023.7 695.0 L1024.3 694.5 L1024.8 693.3 L1025.4 691.9 L1025.9 690.6 L1026.5 691.1 L1027.0 692.1 L1027.5 690.2 L1028.1 688.9 L1028.6 689.4 L1029.2 686.8 L1029.7 688.2 L1030.2 686.2 L1030.8 684.7 L1031.3 685.4 L1031.8 684.5 L1032.4 683.0 L1032.9 682.8 L1033.4 682.8 L1033.9 682.4 L1034.5 679.6 L1035.0 678.0 L1035.5 680.6 L1036.0 678.0 L1036.6 677.1 L1037.1 677.1 L1037.6 675.6 L1038.2 676.3 L1038.7 673.4 L1039.2 673.6 L1039.8 671.9 L1040.3 673.8 L1040.8 671.4 L1041.4 672.0 L1041.9 671.5 L1042.4 668.4 L1043.0 668.6 L1043.5 668.7 L1044.0 667.4 L1044.6 666.5 L1045.1 666.7 L1045.6 666.0 L1046.2 663.9 L1046.7 663.6 L1047.3 663.6 L1047.8 662.5 L1048.3 661.7 L1048.9 659.8 L1049.4 661.7 L1050.0 659.2 L1050.5 658.9 L1051.0 657.9 L1051.6 657.3 L1052.1 656.7 L1052.7 655.0" stroke-width="5.88"/><path d="M1052.7 655.0 L1053.2 655.4 L1053.8 655.5 L1054.3 654.0 L1054.9 653.6 L1055.4 652.7 L1056.0 651.5 L1056.5 652.5 L1057.0 649.4 L1057.6 649.7 L1058.1 649.6 L1058.7 648.2 L1059.2 646.3 L1059.8 645.5 L1060.4 647.3 L1060.9 644.2 L1061.5 644.4 L1062.0 644.2 L1062.6 643.1 L1063.1 640.6 L1063.7 639.9 L1064.2 640.7 L1064.8 639.4 L1065.3 639.2 L1065.9 638.8 L1066.5 638.2 L1067.0 636.1 L1067.6 635.0 L1068.1 636.8 L1068.7 634.6 L1069.2 633.4 L1069.8 632.1 L1070.4 633.6 L1070.9 631.2 L1071.5 630.7 L1072.0 631.5 L1072.6 630.5 L1073.1 630.1 L1073.7 627.7 L1074.3 626.4 L1074.8 626.5 L1075.4 626.4 L1075.9 625.4 L1076.5 626.1 L1077.0 624.9 L1077.6 622.9 L1078.1 623.7 L1078.7 622.3 L1079.2 621.3 L1079.8 622.1 L1080.3 618.8 L1080.9 620.5 L1081.4 619.9 L1082.0 616.5 L1082.5 617.3 L1083.1 616.6 L1083.6 615.0 L1084.2 614.8 L1084.7 613.8 L1085.3 613.9 L1085.8 612.6" stroke-width="5.83"/><path d="M1085.8 612.6 L1086.3 610.8 L1086.9 612.8 L1087.4 611.8 L1087.9 609.5 L1088.5 610.3 L1089.0 610.5 L1089.5 606.7 L1090.1 607.0 L1090.6 606.2 L1091.1 606.4 L1091.7 604.9 L1092.2 603.2 L1092.7 604.9 L1093.2 602.7 L1093.8 602.9 L1094.3 603.2 L1094.8 600.1 L1095.3 599.7 L1095.9 600.2 L1096.4 598.5 L1096.9 598.3 L1097.4 597.1 L1097.9 598.0 L1098.4 596.2 L1098.9 595.2 L1099.5 594.3 L1100.0 593.8 L1100.5 591.2 L1101.0 591.7 L1101.5 591.9 L1102.0 589.3 L1102.5 589.7 L1103.0 588.9 L1103.5 587.7 L1104.0 589.1 L1104.6 587.4 L1105.1 586.3 L1105.6 584.5 L1106.1 584.6 L1106.6 583.5 L1107.1 582.9 L1107.6 582.5 L1108.1 583.2 L1108.6 582.0 L1109.1 581.6 L1109.6 580.6 L1110.2 580.2 L1110.7 577.2 L1111.2 575.9 L1111.7 576.5 L1112.2 575.8 L1112.7 574.9 L1113.2 573.6 L1113.7 574.0 L1114.3 574.2 L1114.8 572.1 L1115.3 571.0 L1115.8 571.5 L1116.3 569.4 L1116.9 568.7" stroke-width="5.78"/><path d="M1116.9 568.7 L1117.4 568.5 L1117.9 565.9 L1118.4 568.4 L1118.9 566.0 L1119.5 565.8 L1120.0 564.9 L1120.5 564.2 L1121.1 561.9 L1121.6 564.0 L1122.1 562.2 L1122.6 561.2 L1123.2 561.9 L1123.7 558.3 L1124.2 559.5 L1124.8 558.0 L1125.3 556.0 L1125.8 558.2 L1126.4 554.5 L1126.9 555.3 L1127.5 554.4 L1128.0 553.9 L1128.5 552.2 L1129.1 553.5 L1129.6 551.8 L1130.2 549.7 L1130.7 549.0 L1131.3 549.7 L1131.8 547.7 L1132.4 548.4 L1132.9 547.6 L1133.5 546.0 L1134.0 544.2 L1134.6 544.0 L1135.1 544.8 L1135.7 543.2 L1136.2 544.6 L1136.8 541.9 L1137.3 541.9 L1137.9 541.5 L1138.4 540.3 L1139.0 539.7 L1139.5 539.7 L1140.1 537.9 L1140.7 537.6 L1141.2 536.3 L1141.8 537.6 L1142.3 535.4 L1142.9 535.3 L1143.5 532.2 L1144.0 532.7 L1144.6 531.4 L1145.1 531.7 L1145.7 530.6 L1146.3 529.4 L1146.8 529.4 L1147.4 529.6 L1148.0 529.2 L1148.5 527.0 L1149.1 527.8 L1149.7 525.6" stroke-width="5.73"/><path d="M1149.7 525.6 L1150.2 526.0 L1150.8 523.9 L1151.4 525.0 L1151.9 524.9 L1152.5 522.4 L1153.1 523.0 L1153.7 519.9 L1154.2 520.0 L1154.8 521.4 L1155.4 519.1 L1155.9 518.9 L1156.5 516.3 L1157.1 517.0 L1157.7 515.7 L1158.2 516.8 L1158.8 514.5 L1159.4 515.9 L1160.0 512.6 L1160.5 513.2 L1161.1 510.6 L1161.7 511.2 L1162.3 511.9 L1162.8 510.0 L1163.4 508.3 L1164.0 509.2 L1164.6 508.9 L1165.1 507.8 L1165.7 507.6 L1166.3 504.7 L1166.9 506.9 L1167.4 505.2 L1168.0 502.3 L1168.6 504.8 L1169.2 502.1 L1169.7 502.3 L1170.3 499.5 L1170.9 499.9 L1171.5 498.2 L1172.0 499.8 L1172.6 498.2 L1173.2 496.9 L1173.8 496.7 L1174.4 497.3 L1174.9 494.9 L1175.5 495.4 L1176.1 493.2 L1176.7 492.1 L1177.2 492.4 L1177.8 491.9 L1178.4 491.6 L1179.0 491.6 L1179.5 489.7 L1180.1 489.1 L1180.7 489.4 L1181.3 488.4 L1181.8 487.3 L1182.4 486.8 L1183.0 484.3 L1183.6 484.7 L1184.1 483.1" stroke-width="5.66"/><path d="M1184.1 483.1 L1184.7 483.5 L1185.3 483.9 L1185.8 481.0 L1186.4 482.5 L1187.0 480.6 L1187.5 480.2 L1188.1 479.3 L1188.7 479.6 L1189.3 477.7 L1189.8 476.0 L1190.4 477.1 L1191.0 476.0 L1191.5 476.0 L1192.1 475.3 L1192.6 473.0 L1193.2 473.5 L1193.8 472.8 L1194.3 471.9 L1194.9 471.3 L1195.5 470.8 L1196.0 469.4 L1196.6 469.0 L1197.1 469.3 L1197.7 466.8 L1198.2 466.9 L1198.8 465.4 L1199.4 464.7 L1199.9 464.5 L1200.5 464.3 L1201.0 464.8 L1201.6 462.6 L1202.1 462.8 L1202.7 461.8 L1203.2 460.7 L1203.7 458.3 L1204.3 459.3 L1204.8 458.5 L1205.4 456.9 L1205.9 457.1 L1206.5 457.6 L1207.0 454.6 L1207.6 454.4 L1208.1 454.9 L1208.7 451.9 L1209.2 451.8 L1209.7 452.3 L1210.3 452.1 L1210.8 451.6 L1211.4 450.5 L1211.9 450.7 L1212.5 448.8 L1213.0 446.6 L1213.6 446.8 L1214.1 446.8 L1214.7 445.9 L1215.2 443.3 L1215.8 444.5 L1216.4 442.8 L1216.9 442.6 L1217.5 443.3" stroke-width="5.58"/><path d="M1217.5 443.3 L1218.1 441.2 L1218.6 440.1 L1219.2 439.9 L1219.8 438.8 L1220.4 440.1 L1221.0 438.6 L1221.6 438.0 L1222.2 436.0 L1222.8 435.4 L1223.4 435.5 L1224.0 433.1 L1224.7 434.9 L1225.3 432.3 L1225.9 432.8 L1226.6 432.4 L1227.2 430.8 L1227.9 431.2 L1228.5 430.8 L1229.2 431.2 L1229.9 429.4 L1230.6 430.0 L1231.3 428.3 L1232.0 427.2 L1232.7 427.5 L1233.4 425.8 L1234.1 425.8 L1234.8 425.7 L1235.6 425.6 L1236.3 424.3 L1237.0 422.4 L1237.8 424.2 L1238.5 422.8 L1239.3 421.9 L1240.1 421.0 L1240.9 421.7 L1241.6 421.1 L1242.4 420.9 L1243.2 419.8 L1244.0 420.8 L1244.8 418.9 L1245.7 419.1 L1246.5 418.5 L1247.3 418.9 L1248.1 417.1 L1249.0 417.1 L1249.8 416.8 L1250.6 416.1 L1251.5 415.8 L1252.3 415.1 L1253.2 416.4 L1254.0 416.7 L1254.9 414.4 L1255.8 415.6 L1256.6 413.8 L1257.5 413.9 L1258.4 414.1 L1259.3 414.2 L1260.1 414.3 L1261.0 412.3 L1261.9 412.5" stroke-width="5.50"/><path d="M1261.9 412.5 L1262.8 413.5 L1263.7 413.1 L1264.6 414.6 L1265.5 412.7 L1266.3 412.3 L1267.2 413.7 L1268.1 411.2 L1269.0 411.1 L1269.9 413.9 L1270.8 411.8 L1271.7 412.3 L1272.6 412.0 L1273.5 411.4 L1274.4 411.9 L1275.3 410.9 L1276.2 412.7 L1277.1 412.5 L1278.0 412.4 L1278.9 411.1 L1279.8 410.3 L1280.7 411.4 L1281.6 410.9 L1282.5 412.0 L1283.4 410.5 L1284.3 411.0 L1285.2 411.9 L1286.1 412.2 L1287.0 411.9 L1287.9 411.0 L1288.8 411.6 L1289.6 413.8 L1290.5 413.4 L1291.3 412.4 L1292.1 414.8 L1292.9 413.8 L1293.7 414.3 L1294.5 414.1 L1295.3 416.2 L1296.1 415.5 L1297.0 415.7 L1297.8 415.4 L1298.7 415.3 L1299.6 416.6 L1300.5 416.6 L1301.4 417.8 L1302.3 416.2 L1303.1 416.7 L1304.0 417.7 L1304.9 417.7 L1305.8 416.8 L1306.7 418.4 L1307.6 417.8 L1308.5 418.3 L1309.4 418.1 L1310.3 418.7 L1311.1 418.0 L1312.0 418.3 L1312.9 419.5 L1313.7 419.3 L1314.6 419.5" stroke-width="5.33"/><path d="M1314.6 419.5 L1315.4 420.3 L1316.3 420.0 L1317.1 420.4 L1318.0 419.2 L1318.8 420.4 L1319.7 421.6 L1320.5 420.8 L1321.4 421.5 L1322.2 422.1 L1323.0 422.2 L1323.9 423.2 L1324.7 423.3 L1325.6 423.2 L1326.4 424.3 L1327.2 423.8 L1328.1 423.9 L1328.9 424.9 L1329.7 425.4 L1330.5 425.3 L1331.4 425.1 L1332.2 425.8 L1333.0 426.6 L1333.8 427.3 L1334.6 428.3 L1335.5 427.5 L1336.3 427.8 L1337.1 427.3 L1337.9 429.5 L1338.7 429.7 L1339.5 429.5 L1340.4 429.5 L1341.2 429.3 L1342.0 431.1 L1342.8 430.6 L1343.6 432.4 L1344.4 432.3 L1345.2 433.0 L1346.0 432.6 L1346.8 433.8 L1347.6 432.7 L1348.4 434.8 L1349.2 434.3 L1350.0 434.1 L1350.8 435.0 L1351.6 435.1 L1352.4 436.2 L1353.2 436.1 L1354.0 436.2 L1354.7 437.1 L1355.5 437.6 L1356.3 438.3 L1357.1 439.0 L1357.9 439.7 L1358.7 439.6 L1359.5 440.7 L1360.3 439.3 L1361.1 440.6 L1361.9 441.6 L1362.8 440.7 L1363.6 441.7" stroke-width="4.89"/><path d="M1363.6 441.7 L1364.4 442.4 L1365.2 441.8 L1366.0 442.8 L1366.8 443.8 L1367.5 443.8 L1368.3 445.2 L1369.1 445.8 L1369.9 445.3 L1370.6 445.2 L1371.4 446.3 L1372.1 446.5 L1372.8 446.6 L1373.5 447.7 L1374.3 448.2 L1375.0 448.8 L1375.7 450.0 L1376.4 450.7 L1377.1 450.8 L1377.9 450.9 L1378.6 451.9 L1379.4 452.1 L1380.1 452.7 L1380.9 452.5 L1381.7 452.5 L1382.5 454.4 L1383.3 454.0 L1384.1 454.5 L1384.9 455.2 L1385.7 455.6 L1386.5 455.9 L1387.3 457.3 L1388.1 456.9 L1388.9 457.4 L1389.7 457.2 L1390.5 458.0 L1391.3 458.7 L1392.1 458.9 L1392.8 459.4 L1393.5 460.0 L1394.0 460.8 L1394.3 461.6 L1394.7 462.4 L1395.0 463.3 L1395.3 464.1 L1395.5 465.0 L1395.8 465.8 L1396.0 466.7 L1396.2 467.6 L1396.7 467.7 L1397.0 466.9 L1397.1 466.0 L1397.3 465.1 L1397.4 464.2 L1397.6 463.3 L1397.7 462.4 L1397.9 461.5 L1398.0 460.6 L1398.1 459.7 L1398.2 458.9 L1398.3 458.0" stroke-width="4.78"/><path d="M1398.3 458.0 L1398.5 457.1 L1398.6 456.2 L1398.8 455.3 L1399.2 454.8 L1399.6 455.6 L1399.9 456.4 L1400.2 457.3 L1400.5 458.2 L1400.8 459.0 L1401.1 459.8 L1401.5 460.6 L1402.0 461.4 L1402.6 462.1 L1403.2 462.7 L1403.9 463.3 L1404.5 463.7 L1405.2 464.6 L1405.9 465.4 L1406.6 465.7 L1407.3 465.3 L1408.0 467.8 L1408.7 467.9 L1409.4 468.4 L1410.1 468.2 L1410.8 469.2 L1411.5 470.1 L1412.2 470.0 L1412.9 471.3 L1413.7 471.3 L1414.4 472.6 L1415.2 472.3 L1415.9 473.5 L1416.7 472.4 L1417.4 474.4 L1418.2 474.4 L1419.0 474.4 L1419.7 475.7 L1420.4 475.5 L1421.2 476.6 L1421.9 477.2 L1422.6 477.8 L1423.4 478.7 L1424.1 479.0 L1424.8 479.8 L1425.5 479.8 L1426.2 480.1 L1426.9 480.7 L1427.6 481.1 L1428.3 481.0 L1429.0 482.3 L1429.7 482.2 L1430.4 483.2 L1431.1 483.7 L1431.8 484.2 L1432.6 484.5 L1433.3 485.6 L1434.0 486.1 L1434.7 487.4 L1435.4 487.6 L1436.1 488.3" stroke-width="4.76"/><path d="M1436.1 488.3 L1436.8 488.1 L1437.5 488.7 L1438.2 488.8 L1439.0 489.5 L1439.7 490.9 L1440.4 490.9 L1441.1 491.5 L1441.9 491.8 L1442.6 493.4 L1443.3 493.1 L1444.1 494.2 L1444.8 494.2 L1445.5 495.2 L1446.2 494.8 L1447.0 495.1 L1447.7 496.9 L1448.4 496.7 L1449.1 497.6 L1449.8 498.5 L1450.5 498.9 L1451.2 499.3 L1451.9 499.1 L1452.6 500.0 L1453.2 500.9 L1453.9 501.8 L1454.6 502.4 L1455.2 502.9 L1455.9 503.0 L1456.5 504.0 L1457.2 505.1 L1457.8 504.8 L1458.5 505.6 L1459.1 506.9 L1459.8 507.9 L1460.4 507.9 L1461.1 508.4 L1461.7 508.5 L1462.4 509.5 L1463.0 509.8 L1463.7 510.9 L1464.3 511.8 L1465.0 512.3 L1465.6 513.4 L1466.3 512.8 L1466.9 513.3 L1467.6 515.2 L1468.3 515.7 L1468.9 515.3 L1469.6 516.4 L1470.3 516.4 L1470.9 517.5 L1471.6 518.3 L1472.3 519.2 L1472.9 518.9 L1473.6 519.3 L1474.3 520.8 L1475.0 521.0 L1475.6 522.5 L1476.3 521.8 L1477.0 522.6" stroke-width="4.73"/><path d="M1477.0 522.6 L1477.6 522.6 L1478.3 524.7 L1479.0 525.4 L1479.7 525.6 L1480.3 525.8 L1481.0 525.7 L1481.6 526.5 L1482.3 527.5 L1483.0 529.3 L1483.6 529.5 L1484.3 529.3 L1485.0 530.4 L1485.6 531.1 L1486.3 531.7 L1487.0 531.6 L1487.6 532.4 L1488.3 533.8 L1489.0 534.2 L1489.6 534.3 L1490.3 536.0 L1491.0 535.8 L1491.6 536.1 L1492.3 537.3 L1493.0 537.8 L1493.7 538.0 L1494.4 539.5 L1495.0 539.7 L1495.7 539.8 L1496.4 540.7 L1497.1 541.3 L1497.8 541.4 L1498.5 542.5 L1499.2 542.4 L1499.9 543.1 L1500.6 544.2 L1501.2 543.8 L1502.0 544.8 L1502.7 545.1 L1503.4 546.4 L1504.1 546.4 L1504.8 548.1 L1505.5 548.5 L1506.2 547.9 L1506.9 548.9 L1507.7 549.2 L1508.4 549.9 L1509.2 550.7 L1509.9 551.6 L1510.7 552.3 L1511.4 552.8 L1512.2 551.7 L1512.9 552.6 L1513.7 553.2 L1514.5 553.6 L1515.2 554.3 L1516.0 555.0 L1516.8 554.9 L1517.6 555.3 L1518.4 556.9 L1519.1 556.8" stroke-width="4.70"/><path d="M1519.1 556.8 L1519.9 557.8 L1520.7 557.0 L1521.5 558.4 L1522.3 559.0 L1523.1 559.2 L1523.9 558.6 L1524.7 559.6 L1525.5 559.4 L1526.3 559.6 L1527.2 560.5 L1528.0 561.1 L1528.8 561.2 L1529.6 561.6 L1530.5 562.3 L1531.3 562.0 L1532.1 562.9 L1532.9 563.4 L1533.8 563.7 L1534.6 564.1 L1535.4 563.7 L1536.2 564.4 L1537.1 564.7 L1537.9 565.6 L1538.7 564.8 L1539.5 566.0 L1540.3 565.6 L1541.2 567.0 L1542.0 566.8 L1542.8 567.5 L1543.6 568.3 L1544.5 569.0 L1545.3 568.1 L1546.1 569.0 L1546.9 568.4 L1547.7 569.5 L1548.6 569.7 L1549.4 570.7 L1550.2 570.7 L1551.0 571.2 L1551.8 571.0 L1552.6 571.8 L1553.4 571.8 L1554.2 572.8 L1555.0 572.4 L1555.8 573.7 L1556.6 574.5 L1557.4 575.3 L1558.2 575.6 L1559.0 575.9 L1559.8 576.0 L1560.6 576.8 L1561.4 576.4 L1562.2 577.0 L1563.1 576.4 L1563.9 577.4 L1564.7 578.5 L1565.5 577.5 L1566.4 578.8 L1567.2 579.0 L1568.0 579.2" stroke-width="4.68"/><path d="M1568.0 579.2 L1568.9 579.8 L1569.7 580.0 L1570.6 579.7 L1571.4 580.5 L1572.3 580.0 L1573.1 581.8 L1574.0 581.4 L1574.8 582.1 L1575.7 581.5 L1576.5 583.1 L1577.4 583.0 L1578.2 583.0 L1579.1 583.2 L1579.9 583.6 L1580.8 583.4 L1581.6 584.0 L1582.5 584.3 L1583.3 584.9 L1584.1 585.8 L1585.0 585.9 L1585.8 585.8 L1586.7 586.3 L1587.5 586.2 L1588.3 586.5 L1589.2 586.3 L1590.0 586.8 L1590.8 587.2 L1591.7 588.0 L1592.5 588.3 L1593.3 589.0 L1594.1 589.7 L1595.0 589.8 L1595.8 589.8 L1596.6 590.0 L1597.4 590.4 L1598.3 591.2 L1599.1 590.9 L1599.9 591.0 L1600.7 592.0 L1601.5 593.0 L1602.3 593.4 L1603.1 593.6 L1603.9 592.8 L1604.8 594.0 L1605.6 594.8 L1606.4 595.3 L1607.1 595.3 L1607.8 595.9 L1608.3 596.6 L1608.7 597.5 L1608.9 598.3 L1609.1 599.2 L1609.2 600.1 L1609.3 601.0 L1609.4 601.9 L1609.6 602.8 L1609.7 603.7 L1609.8 604.6 L1609.9 605.5 L1610.0 606.4" stroke-width="4.64"/><path d="M1610.0 606.4 L1610.1 607.2 L1610.2 608.1 L1610.5 608.9 L1610.7 608.0 L1610.8 607.1 L1610.9 606.2 L1611.0 605.3 L1611.1 604.4 L1611.2 603.5 L1611.2 602.6 L1611.3 601.7 L1611.4 600.8 L1611.5 599.9 L1611.6 599.0 L1611.7 598.1 L1611.8 597.2 L1611.9 596.3 L1612.0 595.4 L1612.1 594.5 L1612.2 593.6 L1612.3 592.8 L1612.4 591.9 L1612.5 591.0 L1612.6 590.1 L1612.8 589.2 L1613.2 588.7 L1613.5 589.5 L1613.7 590.4 L1613.8 591.3 L1614.0 592.2 L1614.2 593.0 L1614.4 593.9 L1614.6 594.8 L1614.8 595.7 L1615.0 596.6 L1615.2 597.4 L1615.3 598.3 L1615.4 599.2 L1615.6 600.1 L1615.7 601.0 L1615.8 601.9 L1615.9 602.8 L1616.0 603.7 L1616.2 604.6 L1616.3 605.5 L1616.4 606.4 L1616.5 607.3 L1616.6 608.1 L1616.7 609.0 L1616.8 609.9 L1616.9 610.8 L1617.0 611.7 L1617.1 612.6 L1617.2 613.5 L1617.3 614.4 L1617.5 615.3 L1617.8 614.9 L1617.9 614.0 L1618.0 613.1 L1618.1 612.2" stroke-width="4.63"/><path d="M1618.1 612.2 L1618.2 611.3 L1618.2 610.4 L1618.3 609.5 L1618.4 608.6 L1618.4 607.8 L1618.5 606.9 L1618.5 606.0 L1618.6 605.1 L1618.7 604.2 L1618.7 603.3 L1618.8 602.4 L1618.9 601.5 L1618.9 600.6 L1619.0 599.7 L1619.1 598.8 L1619.1 597.9 L1619.2 597.0 L1619.3 596.1 L1619.3 595.2 L1619.4 594.3 L1619.5 593.4 L1619.6 592.5 L1619.6 591.6 L1619.7 590.7 L1619.9 589.8 L1620.0 588.9 L1620.4 589.1 L1620.6 589.9 L1620.8 590.8 L1621.0 591.7 L1621.1 592.6 L1621.3 593.5 L1621.4 594.3 L1621.6 595.2 L1621.8 596.1 L1622.1 597.0 L1622.3 597.8 L1622.5 598.7 L1622.9 599.5 L1623.5 600.2 L1624.2 600.6 L1625.0 601.0 L1625.9 601.6 L1626.8 600.7 L1627.7 601.7 L1628.6 602.1 L1629.5 601.2 L1630.3 602.6 L1631.2 602.0 L1632.0 602.3 L1632.8 603.4 L1633.6 603.4 L1634.5 602.9 L1635.3 603.7 L1636.2 604.6 L1637.0 604.3 L1637.9 604.6 L1638.8 605.0 L1639.6 605.2 L1640.5 605.2" stroke-width="4.62"/><path d="M1640.5 605.2 L1641.4 605.3 L1642.3 606.1 L1643.1 606.7 L1644.0 605.6 L1644.9 606.8 L1645.8 607.3 L1646.6 606.6 L1647.5 607.9 L1648.4 607.2 L1649.3 607.8 L1649.5 607.9" stroke-width="4.61"/></g>
<g stroke="#0aa862"><path d="M458.1 896.8 L458.8 897.3 L459.6 897.8 L460.3 898.4 L461.0 899.0 L461.7 899.5 L462.5 900.1 L463.2 900.4 L464.0 901.0 L464.7 901.4 L465.5 901.9 L466.2 902.4 L467.0 902.9 L467.8 903.4 L468.6 903.8 L469.4 904.4 L470.2 904.7 L471.0 904.8 L471.8 905.3 L472.7 905.6 L473.5 905.9 L474.4 906.4 L475.2 906.5 L476.1 906.6 L476.9 907.1 L477.8 907.3 L478.7 907.4 L479.5 907.7 L480.4 907.9 L481.3 908.2 L482.2 908.4 L483.1 908.6 L483.9 909.0 L484.8 908.9 L485.7 909.0 L486.6 909.2 L487.5 909.5 L488.4 909.5 L489.3 909.8 L490.2 909.6 L491.0 909.8 L491.9 910.0 L492.8 910.0 L493.7 910.1 L494.6 910.3 L495.5 910.4 L496.4 910.4 L497.3 910.4 L498.2 910.7 L499.1 910.6 L500.0 910.6 L500.9 910.8 L501.8 910.6 L502.7 910.8 L503.6 910.9 L504.5 910.8 L505.4 910.8 L506.3 910.9 L507.2 910.8 L508.1 910.8 L509.0 910.8" stroke-width="5.20"/><path d="M509.0 910.8 L509.9 911.0 L510.8 910.8 L511.7 911.0 L512.6 910.9 L513.5 910.8 L514.4 910.8 L515.3 910.7 L516.2 910.7 L517.1 910.4 L518.0 910.5 L518.9 910.6 L519.8 910.5 L520.7 910.4 L521.6 910.4 L522.5 910.2 L523.4 910.3 L524.3 909.9 L525.2 910.0 L526.1 909.7 L527.0 909.9 L527.9 909.8 L528.8 909.9 L529.7 909.6 L530.6 909.3 L531.5 909.6 L532.4 909.2 L533.2 909.2 L534.1 909.2 L535.0 909.2 L535.9 909.0 L536.8 909.0 L537.7 908.7 L538.6 909.0 L539.5 908.7 L540.4 908.7 L541.3 908.7 L542.2 908.5 L543.1 908.5 L544.0 908.2 L544.9 908.2 L545.8 908.2 L546.7 908.2 L547.6 908.0 L548.5 907.9 L549.4 907.9 L550.3 907.8 L551.2 907.7 L552.1 907.6 L553.0 907.5 L553.9 907.6 L554.8 907.4 L555.7 907.3 L556.6 907.4 L557.4 907.2 L558.3 907.1 L559.2 907.0 L560.1 906.7 L561.0 906.9 L561.9 906.7 L562.8 906.6" stroke-width="5.20"/><path d="M562.8 906.6 L563.7 906.7 L564.6 906.6 L565.5 906.4 L566.4 906.3 L567.3 906.4 L568.2 906.2 L569.1 905.9 L570.0 906.0 L570.9 905.9 L571.8 905.8 L572.7 905.8 L573.6 905.6 L574.5 905.7 L575.4 905.4 L576.3 905.3 L577.2 905.3 L578.0 905.0 L578.9 905.1 L579.8 904.8 L580.7 904.9 L581.6 904.5 L582.5 904.6 L583.4 904.2 L584.3 904.2 L585.2 904.2 L586.1 904.1 L587.0 904.2 L587.9 904.0 L588.8 903.5 L589.6 903.4 L590.5 903.6 L591.4 903.3 L592.3 903.0 L593.2 903.1 L594.1 902.7 L595.0 902.6 L595.9 902.4 L596.8 902.4 L597.7 902.6 L598.5 902.2 L599.4 902.0 L600.3 902.2 L601.2 901.7 L602.1 901.6 L603.0 901.4 L603.9 901.4 L604.8 901.1 L605.6 901.2 L606.5 900.8 L607.4 900.8 L608.3 900.6 L609.2 900.2 L610.1 900.1 L611.0 900.0 L611.8 899.6 L612.7 899.7 L613.6 899.5 L614.5 899.3 L615.4 899.1 L616.2 899.0" stroke-width="5.20"/><path d="M616.2 899.0 L617.1 898.7 L618.0 898.6 L618.9 898.1 L619.8 898.3 L620.6 897.8 L621.5 897.8 L622.4 897.5 L623.3 897.3 L624.1 897.0 L625.0 897.1 L625.9 896.6 L626.8 896.4 L627.7 896.4 L628.5 896.2 L629.4 896.0 L630.3 895.6 L631.2 895.5 L632.0 895.5 L632.9 895.0 L633.8 895.1 L634.7 894.9 L635.6 894.6 L636.4 894.3 L637.3 894.5 L638.2 894.1 L639.1 893.9 L640.0 893.6 L640.8 893.4 L641.7 893.3 L642.6 893.2 L643.5 892.8 L644.4 892.8 L645.3 892.7 L646.1 892.4 L647.0 892.2 L647.9 892.2 L648.8 892.0 L649.7 891.8 L650.5 891.3 L651.4 891.0 L652.3 891.2 L653.2 890.9 L654.1 890.7 L654.9 890.6 L655.8 890.3 L656.7 890.1 L657.6 890.2 L658.5 889.6 L659.3 889.7 L660.2 889.6 L661.1 889.5 L662.0 889.1 L662.9 888.9 L663.7 888.5 L664.6 888.5 L665.5 888.0 L666.4 888.0 L667.3 887.9 L668.2 887.7 L669.0 887.5" stroke-width="5.20"/><path d="M669.0 887.5 L669.9 887.6 L670.8 887.0 L671.7 887.1 L672.6 886.8 L673.4 886.7 L674.3 886.5 L675.2 886.6 L676.1 886.0 L677.0 886.2 L677.9 886.0 L678.7 885.6 L679.6 885.3 L680.5 885.1 L681.4 884.9 L682.3 885.2 L683.1 884.4 L684.0 884.6 L684.9 884.2 L685.8 884.4 L686.7 884.0 L687.6 883.6 L688.4 883.5 L689.3 883.5 L690.2 883.3 L691.1 882.9 L692.0 882.8 L692.8 882.6 L693.7 882.5 L694.6 882.3 L695.5 882.1 L696.3 881.8 L697.2 881.8 L698.1 881.4 L699.0 881.2 L699.9 881.0 L700.7 880.8 L701.6 880.6 L702.5 880.2 L703.4 880.4 L704.2 880.1 L705.1 880.0 L706.0 879.5 L706.9 879.5 L707.7 879.2 L708.6 879.0 L709.5 879.0 L710.3 878.4 L711.2 878.4 L712.1 877.8 L713.0 877.9 L713.8 877.6 L714.7 877.2 L715.6 877.1 L716.4 876.6 L717.3 876.5 L718.2 876.5 L719.0 875.9 L719.9 876.2 L720.8 875.9 L721.7 875.4" stroke-width="5.20"/><path d="M721.7 875.4 L722.5 875.0 L723.4 874.8 L724.3 874.6 L725.1 874.4 L726.0 874.6 L726.9 873.9 L727.7 873.9 L728.6 873.8 L729.5 873.2 L730.3 873.0 L731.2 872.9 L732.0 872.5 L732.9 872.5 L733.8 872.4 L734.6 871.8 L735.5 871.4 L736.4 871.4 L737.2 871.1 L738.1 870.7 L739.0 870.5 L739.8 870.3 L740.7 870.1 L741.5 870.0 L742.4 869.4 L743.3 869.0 L744.1 868.7 L745.0 869.0 L745.8 868.4 L746.7 868.1 L747.6 868.2 L748.4 867.8 L749.3 867.7 L750.1 867.1 L751.0 866.7 L751.9 866.5 L752.7 866.4 L753.6 866.1 L754.4 865.8 L755.3 865.7 L756.1 865.4 L757.0 864.7 L757.8 864.7 L758.7 864.4 L759.5 863.9 L760.4 864.0 L761.2 863.5 L762.1 863.3 L762.9 862.6 L763.8 862.2 L764.6 862.2 L765.4 861.8 L766.3 861.4 L767.1 861.1 L768.0 860.9 L768.8 860.5 L769.6 860.1 L770.5 859.9 L771.3 859.8 L772.1 859.3 L773.0 858.7" stroke-width="5.20"/><path d="M773.0 858.7 L773.8 858.8 L774.6 858.0 L775.5 857.5 L776.3 857.2 L777.1 856.7 L777.9 856.9 L778.7 856.1 L779.6 855.7 L780.4 855.5 L781.2 855.2 L782.0 854.6 L782.9 854.4 L783.7 854.1 L784.5 853.8 L785.3 853.2 L786.1 853.1 L786.9 852.6 L787.8 852.3 L788.6 851.7 L789.4 851.2 L790.2 851.2 L791.0 850.8 L791.8 850.2 L792.6 849.7 L793.4 849.6 L794.2 849.4 L795.1 848.8 L795.9 848.6 L796.7 847.9 L797.5 847.6 L798.3 847.2 L799.1 846.9 L799.9 846.0 L800.7 845.9 L801.5 845.7 L802.3 844.8 L803.1 844.7 L803.9 844.4 L804.7 844.1 L805.5 843.7 L806.3 843.0 L807.1 842.9 L807.9 842.0 L808.7 841.5 L809.5 841.6 L810.3 841.0 L811.1 840.3 L811.9 840.3 L812.7 839.8 L813.5 839.4 L814.3 838.7 L815.1 838.1 L815.8 837.6 L816.6 837.5 L817.4 837.1 L818.2 836.5 L819.0 836.1 L819.8 835.9 L820.6 835.1 L821.3 834.7" stroke-width="5.20"/><path d="M821.3 834.7 L822.1 834.7 L822.9 833.9 L823.7 833.4 L824.5 833.3 L825.2 832.3 L826.0 832.5 L826.8 831.5 L827.5 831.1 L828.3 830.5 L829.1 830.1 L829.8 829.7 L830.6 829.5 L831.4 828.9 L832.1 828.7 L832.9 828.1 L833.7 827.2 L834.4 826.9 L835.1 826.3 L835.9 825.8 L836.6 825.4 L837.4 824.9 L838.1 824.4 L838.8 823.5 L839.6 823.3 L840.3 822.7 L841.0 822.6 L841.8 821.7 L842.5 821.2 L843.2 820.7 L843.9 820.3 L844.6 819.4 L845.4 819.0 L846.1 818.5 L846.8 817.9 L847.5 817.4 L848.2 816.8 L848.9 816.3 L849.6 815.5 L850.4 815.5 L851.1 814.6 L851.8 813.7 L852.5 813.5 L853.2 813.1 L853.9 812.4 L854.6 811.8 L855.3 810.9 L856.0 811.0 L856.7 810.2 L857.4 809.3 L858.1 809.0 L858.8 808.8 L859.5 808.0 L860.2 807.1 L860.9 806.7 L861.6 806.3 L862.3 806.0 L863.0 805.2 L863.7 804.7 L864.4 803.9 L865.1 803.3" stroke-width="5.20"/><path d="M865.1 803.3 L865.7 802.5 L866.3 801.8 L867.0 801.2 L867.7 800.7 L868.3 800.5 L869.0 799.6 L869.7 799.3 L870.4 798.6 L871.0 797.9 L871.7 797.2 L872.4 797.0 L873.0 796.3 L873.7 795.7 L874.4 795.2 L875.1 794.6 L875.7 793.7 L876.4 793.1 L877.1 792.6 L877.8 792.2 L878.4 791.1 L879.1 790.3 L879.8 790.0 L880.5 789.5 L881.1 788.8 L881.8 788.5 L882.5 787.9 L883.2 787.2 L883.9 786.6 L884.6 786.4 L885.3 785.8 L886.0 785.2 L886.7 784.2 L887.4 784.0 L888.1 783.0 L888.8 782.3 L889.5 782.4 L890.2 781.7 L891.0 781.2 L891.7 780.8 L892.4 780.3 L893.1 779.5 L893.9 779.0 L894.6 778.5 L895.3 778.0 L896.1 777.4 L896.8 776.5 L897.5 776.6 L898.3 775.6 L899.0 775.1 L899.7 774.8 L900.5 774.2 L901.2 773.8 L901.9 773.5 L902.6 772.9 L903.3 771.9 L904.0 771.5 L904.8 770.9 L905.5 770.6 L906.2 769.6 L906.9 769.0" stroke-width="5.20"/><path d="M906.9 769.0 L907.6 768.3 L908.2 768.2 L908.9 767.6 L909.6 767.1 L910.3 766.5 L910.9 765.4 L911.6 765.0 L912.3 764.2 L912.9 764.1 L913.6 763.4 L914.2 762.3 L914.9 762.1 L915.5 761.4 L916.1 760.7 L916.8 760.2 L917.4 759.3 L918.1 758.7 L918.7 758.0 L919.3 757.4 L920.0 756.6 L920.6 756.5 L921.2 755.7 L921.8 754.9 L922.5 753.9 L923.1 754.1 L923.7 753.0 L924.4 752.4 L925.0 751.9 L925.6 751.5 L926.3 750.4 L926.9 749.4 L927.5 749.1 L928.2 748.6 L928.8 747.8 L929.5 747.7 L930.1 746.6 L930.7 746.1 L931.4 745.2 L932.1 745.0 L932.7 744.0 L933.4 743.8 L934.0 743.0 L934.7 742.4 L935.4 741.9 L936.1 740.8 L936.7 740.5 L937.4 740.1 L938.1 739.4 L938.8 739.2 L939.6 738.6 L940.3 737.6 L941.0 737.6 L941.7 736.7 L942.5 736.4 L943.2 736.1 L944.0 734.9 L944.7 734.5 L945.5 734.2 L946.2 733.7 L947.0 732.9" stroke-width="5.17"/><path d="M947.0 732.9 L947.8 733.0 L948.6 732.5 L949.3 732.0 L950.1 731.6 L950.9 731.2 L951.7 730.4 L952.4 730.2 L953.2 729.6 L954.0 729.1 L954.8 728.5 L955.6 728.7 L956.3 727.4 L957.1 727.2 L957.9 727.2 L958.6 726.4 L959.4 725.8 L960.2 725.8 L960.9 724.7 L961.7 724.4 L962.4 724.1 L963.2 723.4 L963.9 722.8 L964.6 722.5 L965.4 722.3 L966.1 721.2 L966.8 721.1 L967.5 720.3 L968.3 719.7 L969.0 718.9 L969.7 719.2 L970.4 718.3 L971.1 717.7 L971.8 716.9 L972.5 717.0 L973.2 715.7 L973.9 715.0 L974.5 714.5 L975.2 714.1 L975.9 713.6 L976.6 712.4 L977.3 712.4 L977.9 711.8 L978.6 711.5 L979.3 710.4 L979.9 710.4 L980.6 709.9 L981.2 708.5 L981.9 708.0 L982.5 707.8 L983.2 707.2 L983.8 706.2 L984.4 705.9 L985.1 704.4 L985.7 704.6 L986.4 703.8 L987.0 703.3 L987.6 702.5 L988.3 702.0 L988.9 700.9 L989.5 700.9" stroke-width="5.13"/><path d="M989.5 700.9 L990.2 699.2 L990.8 699.3 L991.5 698.3 L992.1 698.5 L992.7 696.9 L993.4 696.7 L994.0 696.0 L994.7 695.7 L995.4 694.8 L996.0 693.8 L996.7 693.5 L997.3 693.4 L998.0 692.7 L998.7 691.5 L999.4 690.8 L1000.1 690.2 L1000.8 690.0 L1001.5 689.4 L1002.2 688.8 L1002.9 688.2 L1003.6 687.9 L1004.3 687.8 L1005.1 687.2 L1005.8 686.1 L1006.5 686.0 L1007.3 685.1 L1008.0 685.2 L1008.7 684.5 L1009.5 684.0 L1010.2 683.8 L1010.9 683.0 L1011.7 682.4 L1012.4 682.1 L1013.1 680.7 L1013.9 680.5 L1014.6 679.9 L1015.3 679.8 L1016.1 679.0 L1016.8 678.0 L1017.5 677.7 L1018.3 677.3 L1019.0 676.7 L1019.7 676.2 L1020.4 675.3 L1021.2 675.3 L1021.9 674.3 L1022.6 674.1 L1023.4 673.5 L1024.1 673.1 L1024.8 673.1 L1025.5 671.9 L1026.2 671.4 L1027.0 670.4 L1027.7 670.2 L1028.4 670.0 L1029.1 669.3 L1029.9 669.1 L1030.6 668.2 L1031.3 668.1 L1032.0 667.3" stroke-width="5.10"/><path d="M1032.0 667.3 L1032.7 667.1 L1033.4 666.1 L1034.2 665.9 L1034.9 664.9 L1035.6 664.3 L1036.3 664.4 L1037.0 663.0 L1037.8 662.6 L1038.5 663.0 L1039.2 661.9 L1039.9 661.4 L1040.6 660.8 L1041.4 660.2 L1042.1 660.3 L1042.8 659.1 L1043.5 659.1 L1044.2 658.0 L1044.9 657.2 L1045.7 656.9 L1046.4 656.4 L1047.1 656.5 L1047.8 655.1 L1048.5 654.9 L1049.3 653.7 L1050.0 653.9 L1050.7 653.1 L1051.4 652.8 L1052.1 652.1 L1052.9 651.4 L1053.6 651.0 L1054.3 650.5 L1055.0 650.3 L1055.7 649.3 L1056.5 648.8 L1057.2 647.8 L1057.9 648.1 L1058.6 647.1 L1059.3 646.3 L1060.0 646.6 L1060.8 645.9 L1061.5 645.0 L1062.2 644.5 L1062.9 643.5 L1063.6 642.7 L1064.3 642.9 L1065.1 641.8 L1065.8 642.0 L1066.5 641.1 L1067.2 640.8 L1067.9 639.9 L1068.6 639.7 L1069.4 639.3 L1070.1 638.5 L1070.8 638.2 L1071.5 637.7 L1072.2 636.8 L1072.9 635.7 L1073.6 636.0 L1074.3 635.0 L1075.0 634.2" stroke-width="5.10"/><path d="M1075.0 634.2 L1075.7 633.4 L1076.5 632.9 L1077.2 633.4 L1077.9 633.0 L1078.6 632.3 L1079.3 631.9 L1080.0 630.0 L1080.7 630.4 L1081.4 629.1 L1082.1 628.5 L1082.8 628.7 L1083.5 628.2 L1084.2 627.0 L1084.9 626.1 L1085.6 625.6 L1086.3 625.5 L1087.0 625.4 L1087.7 625.1 L1088.4 624.1 L1089.0 622.9 L1089.7 622.3 L1090.4 622.2 L1091.1 621.8 L1091.8 620.3 L1092.5 620.5 L1093.2 619.6 L1093.9 619.5 L1094.5 618.0 L1095.2 618.4 L1095.9 618.0 L1096.6 617.4 L1097.3 616.9 L1097.9 615.7 L1098.6 615.1 L1099.3 614.1 L1100.0 613.9 L1100.6 613.0 L1101.3 612.9 L1102.0 612.4 L1102.6 611.5 L1103.3 611.5 L1104.0 609.8 L1104.6 609.5 L1105.3 609.7 L1106.0 608.4 L1106.6 608.1 L1107.3 606.6 L1107.9 607.2 L1108.6 605.7 L1109.2 605.1 L1109.9 605.1 L1110.5 604.2 L1111.2 602.9 L1111.8 603.4 L1112.5 601.9 L1113.1 601.5 L1113.8 600.8 L1114.4 600.2 L1115.1 599.6 L1115.7 599.0" stroke-width="5.10"/><path d="M1115.7 599.0 L1116.3 598.3 L1117.0 598.5 L1117.6 597.3 L1118.2 596.8 L1118.9 595.7 L1119.5 595.9 L1120.1 594.8 L1120.7 594.0 L1121.4 593.1 L1122.0 593.0 L1122.6 591.4 L1123.2 591.1 L1123.9 590.6 L1124.5 590.2 L1125.1 589.5 L1125.7 588.2 L1126.3 588.3 L1126.9 587.3 L1127.5 586.6 L1128.1 586.2 L1128.7 585.3 L1129.3 584.6 L1129.9 584.0 L1130.5 583.7 L1131.1 582.8 L1131.7 582.2 L1132.3 581.2 L1132.9 581.2 L1133.5 580.1 L1134.1 579.1 L1134.7 579.1 L1135.3 577.5 L1135.9 577.1 L1136.4 576.9 L1137.0 575.8 L1137.6 575.1 L1138.2 574.4 L1138.8 573.9 L1139.3 573.4 L1139.9 572.7 L1140.5 571.6 L1141.1 570.9 L1141.6 569.7 L1142.2 569.5 L1142.8 569.2 L1143.3 568.3 L1143.9 568.1 L1144.5 566.8 L1145.1 566.3 L1145.6 565.9 L1146.2 564.4 L1146.8 564.7 L1147.4 563.0 L1148.0 562.7 L1148.6 561.5 L1149.2 561.4 L1149.8 560.5 L1150.4 560.6 L1151.1 558.9 L1151.7 559.1" stroke-width="5.10"/><path d="M1151.7 559.1 L1152.3 558.4 L1153.0 557.8 L1153.6 557.4 L1154.2 556.7 L1154.9 555.4 L1155.6 555.4 L1156.2 554.3 L1156.9 553.7 L1157.6 553.3 L1158.3 552.6 L1159.0 552.0 L1159.7 552.0 L1160.4 551.1 L1161.1 549.8 L1161.8 549.7 L1162.5 549.2 L1163.2 549.5 L1163.9 548.4 L1164.6 547.6 L1165.4 547.4 L1166.1 546.0 L1166.8 546.7 L1167.5 545.5 L1168.2 544.7 L1169.0 544.8 L1169.7 543.7 L1170.4 543.0 L1171.1 543.2 L1171.8 543.0 L1172.5 541.7 L1173.3 541.2 L1174.0 540.6 L1174.7 540.3 L1175.4 539.4 L1176.1 539.1 L1176.8 538.2 L1177.5 537.8 L1178.2 537.6 L1178.9 536.2 L1179.6 536.5 L1180.3 536.3 L1181.0 534.8 L1181.7 534.3 L1182.4 534.0 L1183.1 533.3 L1183.8 532.4 L1184.5 532.5 L1185.2 531.9 L1185.9 531.5 L1186.6 530.8 L1187.3 529.7 L1188.0 529.3 L1188.7 528.6 L1189.4 529.0 L1190.1 527.6 L1190.8 527.5 L1191.5 527.2 L1192.2 526.0 L1192.9 525.6 L1193.6 525.1" stroke-width="5.10"/><path d="M1193.6 525.1 L1194.4 525.0 L1195.1 523.4 L1195.8 523.4 L1196.5 522.9 L1197.2 522.4 L1197.9 521.3 L1198.6 521.5 L1199.3 520.7 L1200.1 519.6 L1200.8 519.1 L1201.5 519.6 L1202.2 518.1 L1202.9 517.2 L1203.6 517.4 L1204.3 516.3 L1205.0 516.2 L1205.8 515.8 L1206.5 514.7 L1207.2 514.0 L1207.9 514.7 L1208.6 512.9 L1209.3 512.4 L1210.0 512.3 L1210.7 511.9 L1211.4 511.2 L1212.1 510.3 L1212.9 510.4 L1213.6 509.1 L1214.3 508.6 L1215.0 508.6 L1215.7 508.2 L1216.4 507.4 L1217.1 507.0 L1217.8 506.3 L1218.5 505.9 L1219.2 504.7 L1219.9 504.1 L1220.5 504.1 L1221.2 503.6 L1221.9 502.5 L1222.6 501.8 L1223.3 501.5 L1224.0 501.4 L1224.7 500.4 L1225.4 499.7 L1226.1 499.2 L1226.8 498.6 L1227.5 498.3 L1228.2 497.4 L1228.9 497.1 L1229.6 496.4 L1230.3 495.6 L1231.1 495.4 L1231.8 495.0 L1232.5 493.7 L1233.3 493.9 L1234.0 493.4 L1234.7 492.7 L1235.5 491.9 L1236.2 491.5" stroke-width="5.10"/><path d="M1236.2 491.5 L1237.0 491.5 L1237.7 490.4 L1238.5 490.7 L1239.3 489.7 L1240.0 489.5 L1240.8 488.2 L1241.6 488.7 L1242.4 488.1 L1243.1 486.9 L1243.9 487.5 L1244.7 486.5 L1245.5 485.8 L1246.3 486.4 L1247.1 486.0 L1247.9 485.5 L1248.7 485.0 L1249.6 484.7 L1250.4 483.2 L1251.2 483.5 L1252.0 483.7 L1252.9 483.1 L1253.7 482.6 L1254.5 482.1 L1255.4 481.7 L1256.2 481.2 L1257.0 481.2 L1257.9 480.2 L1258.7 481.0 L1259.6 480.3 L1260.5 479.4 L1261.3 479.8 L1262.2 479.6 L1263.0 479.2 L1263.9 479.3 L1264.8 479.1 L1265.6 478.8 L1266.5 477.7 L1267.4 477.4 L1268.3 477.6 L1269.1 478.1 L1270.0 476.9 L1270.9 477.2 L1271.8 477.0 L1272.7 477.0 L1273.6 476.3 L1274.5 477.0 L1275.3 476.5 L1276.2 476.8 L1277.1 476.4 L1278.0 476.2 L1278.9 476.5 L1279.8 476.5 L1280.7 476.1 L1281.6 475.6 L1282.5 475.9 L1283.4 476.1 L1284.3 475.9 L1285.2 476.2 L1286.1 476.0 L1287.0 475.4" stroke-width="5.10"/><path d="M1287.0 475.4 L1287.9 476.1 L1288.8 475.7 L1289.7 475.6 L1290.6 475.5 L1291.5 474.9 L1292.4 474.7 L1293.3 475.6 L1294.2 475.7 L1295.1 476.0 L1296.0 475.1 L1296.9 475.4 L1297.8 475.3 L1298.7 475.7 L1299.6 475.2 L1300.5 475.3 L1301.4 475.1 L1302.3 475.6 L1303.2 476.0 L1304.1 475.3 L1305.0 475.7 L1305.9 476.4 L1306.8 475.7 L1307.7 475.4 L1308.6 475.8 L1309.5 476.5 L1310.4 476.3 L1311.2 476.1 L1312.1 476.2 L1313.0 477.0 L1313.9 476.2 L1314.8 477.2 L1315.7 476.7 L1316.6 477.2 L1317.5 476.7 L1318.4 476.9 L1319.3 477.9 L1320.2 477.4 L1321.1 477.2 L1322.0 477.9 L1322.9 477.6 L1323.7 477.6 L1324.6 477.8 L1325.5 478.0 L1326.4 478.7 L1327.3 477.9 L1328.2 478.7 L1329.1 478.2 L1330.0 479.1 L1330.8 479.0 L1331.7 479.5 L1332.6 479.5 L1333.5 480.1 L1334.3 480.2 L1335.2 480.3 L1336.1 480.6 L1337.0 480.5 L1337.8 480.7 L1338.7 480.8 L1339.6 481.5 L1340.5 481.6" stroke-width="5.10"/><path d="M1340.5 481.6 L1341.3 481.7 L1342.2 481.6 L1343.1 482.1 L1344.0 482.5 L1344.8 482.8 L1345.7 482.6 L1346.6 483.2 L1347.5 482.8 L1348.3 483.3 L1349.2 483.3 L1350.1 483.9 L1351.0 483.7 L1351.9 483.8 L1352.8 484.4 L1353.6 484.2 L1354.5 483.2 L1355.4 483.7 L1356.2 483.3 L1357.1 483.1 L1357.9 482.4 L1358.8 483.0 L1359.7 483.0 L1360.3 483.1 L1360.8 483.6 L1361.2 484.7 L1361.5 485.9 L1361.9 487.2 L1362.2 487.1 L1362.7 488.4 L1363.2 489.0 L1363.8 489.7 L1364.5 490.4 L1365.3 490.9 L1366.1 491.1 L1366.9 491.9 L1367.8 492.0 L1368.6 492.4 L1369.4 492.7 L1370.3 492.4 L1371.1 493.4 L1372.0 493.0 L1372.8 493.7 L1373.6 493.9 L1374.4 494.2 L1375.2 494.9 L1375.9 495.1 L1376.6 496.2 L1377.3 496.6 L1378.0 497.0 L1378.7 497.7 L1379.5 498.2 L1380.3 498.5 L1381.1 498.4 L1381.9 499.4 L1382.7 499.8 L1383.6 500.5 L1384.4 500.9 L1385.2 501.1 L1386.0 501.2 L1386.9 501.6" stroke-width="5.10"/><path d="M1386.9 501.6 L1387.7 501.7 L1388.6 502.0 L1389.4 502.2 L1390.2 502.6 L1391.1 502.8 L1391.9 503.7 L1392.8 504.1 L1393.6 503.5 L1394.5 504.3 L1395.3 504.1 L1396.2 504.4 L1397.1 505.0 L1397.9 505.2 L1398.8 506.0 L1399.7 505.8 L1400.5 505.7 L1401.4 505.8 L1402.3 506.5 L1403.2 506.4 L1404.0 506.7 L1404.9 506.6 L1405.8 507.4 L1406.7 507.4 L1407.6 507.8 L1408.4 507.6 L1409.3 507.9 L1410.2 507.9 L1411.1 507.9 L1412.0 508.5 L1412.9 508.0 L1413.8 508.5 L1414.7 508.4 L1415.5 508.9 L1416.4 508.7 L1417.3 509.1 L1418.2 509.1 L1419.1 509.3 L1420.0 509.4 L1420.9 510.1 L1421.8 509.5 L1422.7 510.2 L1423.6 509.9 L1424.5 510.5 L1425.4 510.2 L1426.3 510.5 L1427.1 510.0 L1428.0 510.8 L1428.9 510.5 L1429.8 510.4 L1430.7 510.7 L1431.6 511.2 L1432.5 510.7 L1433.4 511.0 L1434.3 511.3 L1435.2 511.4 L1436.1 511.0 L1437.0 510.9 L1437.9 511.6 L1438.8 511.6 L1439.7 511.7" stroke-width="5.10"/><path d="M1439.7 511.7 L1440.6 511.9 L1441.5 511.7 L1442.4 511.9 L1443.3 511.7 L1444.2 511.9 L1445.1 512.0 L1446.0 511.9 L1446.9 512.1 L1447.8 512.7 L1448.7 512.3 L1449.5 512.7 L1450.4 512.7 L1451.3 512.4 L1452.2 513.0 L1453.1 512.6 L1454.0 513.3 L1454.9 513.3 L1455.8 513.3 L1456.6 513.8 L1457.5 513.7 L1458.4 514.5 L1459.3 513.8 L1460.2 514.7 L1461.1 514.8 L1461.9 514.9 L1462.8 514.7 L1463.7 514.9 L1464.6 514.9 L1465.4 515.6 L1466.3 515.7 L1467.2 516.2 L1468.1 516.3 L1468.9 516.6 L1469.8 516.3 L1470.7 517.0 L1471.5 517.3 L1472.4 517.7 L1473.3 517.2 L1474.1 518.2 L1475.0 517.6 L1475.9 518.3 L1476.8 518.6 L1477.6 519.1 L1478.5 519.0 L1479.4 519.0 L1480.3 518.9 L1481.2 519.0 L1482.1 519.0 L1483.0 519.4 L1483.9 519.3 L1484.8 519.8 L1485.7 519.3 L1486.6 519.8 L1487.5 519.6 L1488.4 519.4 L1489.3 519.7 L1490.2 519.2 L1491.1 519.8 L1492.0 519.7 L1492.9 519.6" stroke-width="5.10"/><path d="M1492.9 519.6 L1493.8 519.9 L1494.7 520.0 L1495.6 520.1 L1496.5 519.9 L1497.4 519.8 L1498.3 520.1 L1499.2 519.5 L1500.1 520.4 L1501.0 519.9 L1501.9 520.1 L1502.8 520.5 L1503.7 519.9 L1504.6 520.1 L1505.5 520.3 L1506.4 520.1 L1507.3 520.7 L1508.2 520.1 L1509.0 520.7 L1509.9 521.1 L1510.7 521.4 L1511.6 521.5 L1512.4 522.4 L1513.1 522.9 L1513.9 523.0 L1514.6 523.7 L1515.4 523.7 L1516.1 524.8 L1516.9 525.1 L1517.6 525.8 L1518.3 526.3 L1519.1 526.7 L1519.8 527.2 L1520.4 527.4 L1521.1 528.0 L1521.8 528.7 L1522.4 529.8 L1523.0 530.3 L1523.7 530.8 L1524.3 531.4 L1524.9 532.5 L1525.4 532.9 L1526.0 534.1 L1526.6 534.3 L1527.1 534.8 L1527.7 535.3 L1528.2 536.3 L1528.8 537.3 L1529.3 537.5 L1529.9 538.8 L1530.4 539.5 L1530.9 539.8 L1531.5 540.9 L1532.0 541.2 L1532.5 542.3 L1533.0 542.9 L1533.5 543.9 L1534.0 544.3 L1534.5 545.2 L1535.1 546.1 L1535.6 546.6" stroke-width="5.10"/><path d="M1535.6 546.6 L1536.1 547.3 L1536.7 547.9 L1537.3 549.1 L1537.9 549.5 L1538.5 550.3 L1539.1 551.0 L1539.7 551.6 L1540.4 552.2 L1541.0 552.6 L1541.7 553.3 L1542.3 554.1 L1543.0 554.3 L1543.6 554.9 L1544.3 556.0 L1545.0 556.8 L1545.7 557.1 L1546.3 557.6 L1547.0 558.5 L1547.7 559.0 L1548.4 559.6 L1549.1 560.0 L1549.9 560.4 L1550.6 561.1 L1551.4 561.7 L1552.1 562.1 L1552.9 561.9 L1553.7 563.1 L1554.5 563.0 L1555.3 563.2 L1556.1 563.6 L1557.0 564.3 L1557.8 564.1 L1558.6 564.6 L1559.5 565.3 L1560.3 565.7 L1561.2 566.2 L1562.0 566.1 L1562.9 566.1 L1563.8 566.3 L1564.6 566.9 L1565.5 566.9 L1566.4 567.1 L1567.3 567.0 L1568.2 567.0 L1569.1 567.2 L1570.0 567.4 L1570.9 567.4 L1571.8 567.7 L1572.7 567.4 L1573.6 567.2 L1574.5 567.3 L1575.4 566.5 L1576.2 566.5 L1577.1 566.6 L1578.0 566.5 L1578.9 566.1 L1579.7 565.5 L1580.6 565.3 L1581.5 565.4 L1582.3 565.2" stroke-width="5.10"/><path d="M1582.3 565.2 L1583.2 564.4 L1584.1 564.4 L1584.9 564.2 L1585.8 564.2 L1586.6 564.0 L1587.5 563.4 L1588.4 563.0 L1589.3 563.1 L1590.2 562.8 L1591.0 562.7 L1591.9 563.0 L1592.8 562.7 L1593.7 562.2 L1594.6 562.6 L1595.5 562.7 L1596.4 562.2 L1597.3 563.0 L1598.2 562.9 L1599.1 563.1 L1599.9 563.2 L1600.8 563.6 L1601.7 563.7 L1602.5 563.4 L1603.1 562.8 L1603.6 562.1 L1603.8 561.2 L1604.1 560.4 L1604.3 559.5 L1604.4 558.6 L1604.5 557.7 L1604.5 556.8 L1604.6 555.9 L1604.7 555.0 L1604.8 554.1 L1604.8 553.2 L1604.8 552.3 L1604.9 551.4 L1604.9 550.5 L1604.9 549.6 L1605.0 548.7 L1605.0 547.8 L1605.1 546.9 L1605.1 546.0 L1605.2 545.1 L1605.3 544.2 L1605.3 543.3 L1605.4 542.4 L1605.4 541.5 L1605.5 540.6 L1605.6 539.7 L1605.6 538.8 L1605.7 537.9 L1605.7 537.0 L1605.8 536.1 L1605.8 535.2 L1605.9 534.3 L1605.9 533.4 L1606.0 532.5 L1606.0 531.6 L1606.1 530.7" stroke-width="5.10"/><path d="M1606.1 530.7 L1606.1 529.9 L1606.2 529.0 L1606.3 528.1 L1606.3 527.2 L1606.4 526.3 L1606.5 525.4 L1606.6 524.5 L1606.6 523.6 L1606.7 522.7 L1606.8 521.8 L1606.9 520.9 L1607.0 520.0 L1607.1 519.1 L1607.2 518.2 L1607.3 517.3 L1607.4 516.4 L1607.5 515.5 L1607.7 514.6 L1607.8 513.7 L1607.9 512.9 L1608.1 512.0 L1608.2 511.1 L1608.4 510.2 L1608.6 509.3 L1608.9 508.5 L1609.2 507.6 L1609.6 506.8 L1610.4 506.7 L1610.9 507.4 L1611.2 508.2 L1611.5 509.1 L1611.7 510.0 L1611.9 510.8 L1612.1 511.7 L1612.2 512.6 L1612.4 513.5 L1612.5 514.4 L1612.6 515.3 L1612.7 516.2 L1612.9 517.1 L1613.0 518.0 L1613.1 518.8 L1613.2 519.7 L1613.3 520.6 L1613.4 521.5 L1613.5 522.4 L1613.5 523.3 L1613.6 524.2 L1613.7 525.1 L1613.8 526.0 L1613.8 526.9 L1613.9 527.8 L1614.0 528.7 L1614.1 529.6 L1614.1 530.5 L1614.2 531.4 L1614.2 532.3 L1614.3 533.2 L1614.3 534.1 L1614.4 535.0" stroke-width="5.10"/><path d="M1614.4 535.0 L1614.4 535.9 L1614.5 536.8 L1614.5 537.7 L1614.6 538.6 L1614.7 539.5 L1614.7 540.4 L1614.8 541.3 L1614.8 542.2 L1614.9 543.1 L1614.9 544.0 L1615.0 544.9 L1615.0 545.8 L1615.1 546.7 L1615.1 547.6 L1615.2 548.5 L1615.2 549.4 L1615.3 550.3 L1615.3 551.2 L1615.4 552.1 L1615.4 553.0 L1615.4 553.9 L1615.5 554.8 L1615.5 555.7 L1615.6 556.6 L1615.7 557.5 L1615.7 558.4 L1615.8 559.2 L1615.9 560.1 L1616.1 561.0 L1616.2 561.9 L1616.4 562.8 L1616.7 563.6 L1617.0 564.5 L1617.5 565.2 L1618.0 566.0 L1618.6 566.6 L1619.3 567.3 L1619.8 568.0 L1620.4 568.7 L1620.7 569.5 L1621.1 570.3 L1621.4 571.2 L1621.7 572.0 L1622.0 572.9 L1622.3 573.7 L1622.6 574.6 L1622.9 575.4 L1623.3 576.2 L1623.8 577.0 L1624.7 577.0 L1625.4 576.6 L1626.1 576.1 L1627.0 575.7 L1627.7 575.8 L1628.2 576.5 L1628.7 577.3 L1628.8 578.1 L1629.0 579.0 L1629.2 579.9 L1629.3 580.8" stroke-width="5.10"/><path d="M1629.3 580.8 L1629.5 581.7 L1629.6 582.6 L1629.7 583.5 L1629.8 584.4 L1629.9 585.3 L1630.0 586.2 L1630.1 587.1 L1630.2 587.9 L1630.3 588.8 L1630.4 589.7 L1630.5 590.6 L1630.6 591.5 L1630.7 592.4 L1630.7 593.3 L1630.8 594.2 L1630.9 595.1 L1631.1 596.0 L1631.2 596.9 L1631.3 597.8 L1631.4 598.7 L1631.6 599.6 L1631.7 600.5 L1631.9 601.3 L1632.0 602.2 L1632.2 603.1 L1632.4 604.0 L1632.6 604.9 L1632.8 605.7 L1633.0 606.6 L1633.2 607.5 L1633.4 608.4 L1633.6 609.3 L1633.8 610.1 L1634.0 611.0 L1634.2 611.9 L1634.5 612.7 L1634.8 613.6 L1635.1 614.4 L1635.3 615.3 L1635.7 616.1 L1636.3 616.8 L1636.8 617.0 L1637.2 616.2 L1637.6 615.4 L1637.8 614.6 L1637.9 613.7 L1638.1 612.8 L1638.3 611.9 L1638.5 611.0 L1638.6 610.1 L1638.7 609.2 L1638.8 608.4 L1639.0 607.5 L1639.1 606.6 L1639.2 605.7 L1639.4 604.8 L1639.5 603.9 L1639.6 603.0 L1639.8 602.1 L1639.9 601.2" stroke-width="5.10"/><path d="M1639.9 601.2 L1640.0 600.3 L1640.1 599.4 L1640.3 598.6 L1640.4 597.7 L1640.5 596.8 L1640.6 595.9 L1640.7 595.0 L1640.8 594.1 L1641.0 593.2 L1641.1 592.3 L1641.2 591.4 L1641.3 590.5 L1641.4 589.6 L1641.5 588.7 L1641.6 587.8 L1641.7 586.9 L1641.8 586.1 L1641.9 585.2 L1642.0 584.3 L1642.1 583.4 L1642.3 582.5 L1642.4 581.6 L1642.5 580.7 L1642.7 579.8 L1642.8 578.9 L1642.9 578.0 L1643.1 577.1 L1643.3 576.3 L1643.5 575.4 L1643.7 574.5 L1643.9 573.6 L1644.2 572.8 L1644.5 571.9 L1644.9 571.1 L1645.3 570.2 L1645.8 569.5 L1646.3 568.4 L1647.1 568.5 L1648.0 568.4 L1648.8 568.7 L1649.5 568.8" stroke-width="5.10"/></g>
<g stroke="#bf70e2"><path d="M438.4 925.6 L439.3 925.8 L440.2 926.2 L441.1 926.0 L442.0 926.3 L442.8 925.6 L443.7 927.2 L444.6 926.9 L445.5 927.6 L446.4 926.8 L447.3 927.4 L448.2 927.2 L449.1 927.0 L450.0 927.6 L450.9 927.0 L451.8 927.6 L452.7 928.2 L453.5 927.9 L454.4 927.8 L455.3 929.0 L456.2 928.2 L457.1 927.9 L458.0 928.4 L458.9 928.1 L459.8 928.2 L460.7 928.3 L461.6 929.4 L462.5 928.6 L463.4 928.7 L464.3 929.0 L465.2 929.6 L466.1 928.6 L467.0 928.4 L467.9 929.7 L468.8 928.1 L469.7 928.7 L470.6 929.3 L471.5 929.9 L472.4 928.5 L473.3 928.1 L474.2 929.4 L475.1 928.8 L476.0 928.9 L476.9 929.3 L477.8 929.2 L478.7 929.2 L479.6 928.9 L480.5 929.8 L481.4 929.9 L482.3 929.1 L483.2 928.9 L484.1 929.5 L485.0 929.3 L485.9 928.5 L486.8 928.8 L487.7 929.5 L488.6 928.9 L489.5 928.8 L490.4 929.0 L491.3 928.8 L492.2 928.8" stroke-width="5.21"/><path d="M492.2 928.8 L493.1 927.8 L494.0 929.6 L494.9 928.7 L495.8 928.1 L496.7 929.0 L497.6 928.6 L498.5 928.4 L499.4 928.9 L500.3 929.3 L501.2 928.5 L502.1 929.0 L503.0 929.1 L503.9 927.5 L504.8 927.7 L505.7 928.3 L506.6 927.0 L507.5 927.7 L508.4 928.4 L509.3 928.2 L510.2 927.9 L511.1 926.6 L512.0 928.4 L512.9 927.7 L513.8 927.8 L514.7 927.5 L515.6 926.3 L516.5 926.4 L517.4 926.4 L518.2 928.0 L519.1 926.5 L520.0 926.8 L520.9 926.7 L521.8 927.1 L522.7 926.9 L523.6 926.8 L524.5 925.9 L525.4 925.5 L526.3 926.5 L527.2 926.5 L528.1 926.9 L529.0 926.1 L529.9 925.8 L530.8 926.3 L531.7 925.1 L532.6 925.3 L533.5 925.3 L534.4 925.9 L535.3 926.7 L536.2 926.0 L537.1 926.2 L538.0 925.6 L538.9 925.6 L539.8 925.1 L540.7 925.1 L541.6 924.2 L542.5 924.5 L543.4 924.3 L544.3 925.4 L545.2 925.2 L546.1 925.4" stroke-width="5.23"/><path d="M546.1 925.4 L547.0 925.6 L547.9 924.5 L548.8 925.2 L549.6 925.5 L550.5 924.4 L551.4 925.0 L552.3 924.2 L553.2 923.3 L554.1 924.2 L555.0 923.6 L555.9 924.1 L556.8 923.7 L557.7 924.0 L558.6 922.8 L559.5 924.7 L560.4 924.4 L561.3 923.4 L562.2 923.0 L563.1 923.4 L564.0 923.7 L564.9 923.5 L565.8 923.5 L566.7 922.2 L567.6 922.5 L568.5 923.8 L569.4 923.1 L570.3 922.0 L571.2 922.3 L572.1 921.9 L573.0 922.1 L573.9 923.2 L574.8 922.3 L575.7 923.0 L576.6 922.4 L577.5 921.4 L578.3 921.7 L579.2 923.0 L580.1 921.5 L581.0 921.2 L581.9 922.4 L582.8 921.7 L583.7 921.5 L584.6 922.3 L585.5 920.3 L586.4 921.5 L587.3 920.5 L588.2 920.2 L589.1 920.4 L590.0 921.4 L590.9 920.6 L591.8 919.6 L592.7 919.8 L593.5 921.2 L594.4 920.8 L595.3 919.5 L596.2 921.0 L597.1 919.7 L598.0 919.1 L598.9 919.6 L599.8 920.1" stroke-width="5.25"/><path d="M599.8 920.1 L600.7 920.3 L601.6 919.9 L602.5 918.9 L603.4 918.7 L604.3 918.1 L605.1 918.8 L606.0 918.3 L606.9 918.7 L607.8 917.7 L608.7 918.0 L609.6 917.7 L610.5 917.4 L611.4 917.2 L612.3 917.2 L613.2 917.0 L614.1 917.9 L614.9 917.5 L615.8 916.5 L616.7 917.5 L617.6 917.2 L618.5 917.7 L619.4 916.7 L620.3 916.5 L621.2 916.1 L622.1 916.4 L623.0 916.5 L623.8 916.2 L624.7 915.8 L625.6 916.1 L626.5 915.7 L627.4 915.6 L628.3 914.8 L629.2 915.3 L630.1 914.4 L630.9 914.3 L631.8 914.8 L632.7 915.5 L633.6 914.9 L634.5 914.2 L635.4 913.9 L636.2 914.4 L637.1 914.5 L638.0 914.2 L638.9 913.2 L639.8 913.2 L640.7 912.7 L641.5 912.6 L642.4 912.1 L643.3 912.2 L644.2 911.1 L645.1 911.3 L645.9 912.1 L646.8 911.1 L647.7 911.8 L648.6 910.5 L649.5 910.8 L650.3 911.1 L651.2 910.0 L652.1 910.0 L653.0 911.3" stroke-width="5.27"/><path d="M653.0 911.3 L653.8 909.7 L654.7 909.5 L655.6 909.3 L656.5 909.5 L657.4 909.3 L658.2 909.7 L659.1 909.4 L660.0 908.5 L660.9 908.3 L661.7 907.4 L662.6 907.2 L663.5 907.4 L664.4 908.1 L665.3 907.6 L666.1 907.8 L667.0 907.6 L667.9 906.8 L668.8 907.7 L669.6 906.2 L670.5 905.9 L671.4 905.8 L672.3 906.6 L673.1 905.6 L674.0 905.0 L674.9 905.5 L675.8 905.7 L676.7 904.8 L677.5 904.5 L678.4 905.1 L679.3 904.8 L680.2 904.6 L681.0 903.4 L681.9 903.8 L682.8 903.6 L683.7 902.1 L684.5 903.7 L685.4 902.8 L686.3 902.3 L687.2 903.4 L688.0 902.2 L688.9 901.4 L689.8 901.6 L690.6 901.8 L691.5 901.7 L692.4 900.9 L693.3 900.2 L694.1 900.1 L695.0 899.8 L695.9 899.4 L696.7 899.8 L697.6 899.2 L698.5 899.3 L699.3 898.5 L700.2 898.3 L701.0 898.4 L701.9 898.0 L702.8 898.7 L703.6 897.2 L704.5 897.6 L705.3 897.2" stroke-width="5.29"/><path d="M705.3 897.2 L706.2 896.1 L707.1 897.1 L707.9 896.5 L708.8 895.0 L709.6 896.2 L710.5 896.1 L711.3 894.7 L712.2 896.1 L713.0 894.8 L713.9 893.6 L714.8 894.5 L715.6 893.6 L716.5 892.7 L717.3 892.1 L718.2 893.1 L719.0 892.1 L719.8 892.8 L720.7 892.3 L721.5 891.4 L722.4 891.0 L723.2 892.3 L724.1 892.0 L724.9 891.0 L725.8 889.9 L726.6 889.1 L727.4 889.2 L728.3 890.3 L729.1 889.2 L729.9 888.3 L730.8 887.3 L731.6 888.0 L732.5 886.9 L733.3 887.2 L734.1 887.4 L734.9 887.2 L735.8 886.2 L736.6 885.5 L737.4 885.5 L738.2 886.3 L739.1 884.9 L739.9 883.3 L740.7 885.1 L741.5 883.8 L742.4 884.5 L743.2 882.4 L744.0 882.3 L744.8 881.8 L745.6 881.9 L746.4 880.8 L747.2 879.7 L748.0 879.1 L748.9 880.0 L749.7 879.3 L750.5 878.9 L751.3 880.3 L752.1 879.2 L752.9 879.0 L753.7 877.3 L754.5 877.6 L755.3 876.8" stroke-width="5.36"/><path d="M755.3 876.8 L756.1 876.4 L756.9 876.7 L757.7 876.2 L758.6 875.6 L759.4 875.1 L760.2 873.4 L761.0 873.5 L761.8 874.1 L762.6 873.0 L763.4 872.3 L764.2 872.8 L765.0 871.4 L765.8 871.2 L766.6 872.1 L767.4 870.7 L768.2 871.8 L769.0 870.6 L769.9 870.5 L770.7 870.3 L771.5 867.5 L772.3 868.5 L773.1 867.1 L773.9 867.4 L774.7 867.3 L775.5 868.1 L776.3 866.6 L777.1 867.7 L777.9 865.4 L778.8 865.4 L779.6 865.1 L780.4 865.5 L781.2 864.2 L782.0 863.3 L782.8 863.2 L783.6 861.8 L784.4 863.8 L785.2 862.9 L786.0 862.2 L786.8 861.7 L787.6 860.5 L788.4 860.2 L789.2 860.9 L790.0 859.1 L790.8 858.6 L791.6 860.4 L792.4 859.9 L793.2 858.3 L794.0 858.1 L794.7 857.3 L795.5 858.1 L796.3 855.9 L797.1 855.9 L797.9 855.9 L798.7 856.3 L799.4 854.3 L800.2 854.3 L801.0 853.1 L801.7 852.5 L802.5 852.0 L803.3 852.2" stroke-width="5.46"/><path d="M803.3 852.2 L804.0 852.5 L804.8 850.5 L805.6 850.2 L806.3 849.9 L807.1 850.1 L807.9 850.0 L808.6 847.6 L809.4 848.7 L810.1 846.9 L810.9 848.0 L811.6 845.9 L812.4 845.3 L813.1 845.1 L813.9 845.3 L814.6 843.9 L815.4 844.6 L816.1 844.0 L816.9 843.4 L817.6 843.1 L818.3 843.2 L819.1 841.1 L819.8 841.3 L820.6 840.7 L821.3 838.5 L822.0 840.1 L822.8 838.4 L823.5 838.0 L824.2 837.7 L825.0 837.8 L825.7 837.5 L826.4 837.1 L827.2 835.4 L827.9 836.3 L828.6 835.5 L829.4 834.1 L830.1 834.0 L830.8 834.3 L831.5 833.4 L832.3 833.1 L833.0 832.0 L833.7 832.5 L834.4 832.6 L835.1 830.7 L835.8 828.0 L836.5 830.9 L837.2 827.9 L838.0 826.5 L838.7 825.5 L839.4 827.3 L840.1 827.5 L840.8 826.8 L841.5 824.8 L842.2 826.2 L842.9 824.0 L843.6 822.8 L844.3 823.0 L845.0 822.6 L845.6 821.8 L846.3 821.6 L847.0 818.6" stroke-width="5.55"/><path d="M847.0 818.6 L847.7 821.7 L848.4 818.8 L849.1 819.6 L849.8 817.4 L850.5 817.9 L851.2 816.9 L851.8 814.8 L852.5 816.4 L853.2 816.1 L853.9 813.6 L854.6 812.2 L855.3 812.9 L856.0 812.1 L856.6 812.6 L857.3 811.9 L858.0 813.1 L858.7 811.4 L859.4 809.8 L860.1 809.7 L860.8 807.0 L861.5 807.4 L862.2 806.8 L862.8 807.1 L863.5 807.0 L864.2 806.3 L864.9 806.5 L865.6 804.1 L866.3 804.6 L866.9 803.6 L867.6 803.1 L868.3 802.9 L869.0 801.6 L869.7 801.6 L870.3 800.7 L871.0 801.3 L871.7 799.5 L872.4 799.3 L873.0 800.3 L873.7 798.5 L874.4 797.8 L875.1 797.8 L875.7 794.9 L876.4 796.2 L877.1 795.6 L877.8 794.7 L878.4 794.7 L879.1 793.9 L879.8 793.7 L880.4 791.1 L881.1 791.7 L881.8 790.0 L882.5 791.4 L883.1 789.6 L883.8 787.4 L884.4 788.3 L885.1 786.5 L885.8 788.0 L886.4 786.0 L887.1 783.8 L887.8 784.7" stroke-width="5.58"/><path d="M887.8 784.7 L888.4 785.6 L889.1 784.3 L889.7 782.6 L890.4 783.4 L891.1 782.7 L891.7 783.0 L892.4 781.8 L893.0 780.6 L893.7 778.8 L894.3 779.3 L895.0 778.7 L895.6 777.8 L896.3 777.6 L896.9 775.3 L897.6 776.5 L898.2 775.3 L898.9 775.0 L899.5 773.9 L900.2 773.1 L900.8 773.0 L901.5 773.0 L902.1 771.2 L902.7 771.2 L903.4 769.4 L904.0 770.1 L904.7 769.0 L905.3 767.0 L905.9 768.9 L906.6 766.1 L907.2 766.5 L907.9 764.4 L908.5 763.3 L909.1 765.2 L909.8 762.4 L910.4 761.3 L911.0 762.4 L911.6 760.3 L912.3 761.1 L912.9 762.6 L913.5 759.6 L914.2 759.7 L914.8 759.3 L915.4 758.3 L916.0 757.3 L916.6 758.4 L917.3 756.0 L917.9 755.8 L918.5 754.9 L919.1 752.8 L919.8 753.8 L920.4 752.9 L921.0 752.9 L921.6 752.3 L922.2 752.5 L922.8 748.3 L923.4 749.0 L924.1 748.4 L924.7 747.4 L925.3 748.0 L925.9 746.9" stroke-width="5.52"/><path d="M925.9 746.9 L926.5 746.4 L927.1 743.9 L927.7 744.0 L928.3 744.2 L928.9 743.2 L929.6 742.3 L930.2 742.2 L930.8 741.4 L931.4 739.9 L932.0 742.0 L932.6 738.9 L933.2 739.7 L933.8 738.9 L934.4 738.6 L935.0 736.4 L935.6 735.3 L936.2 736.1 L936.8 735.2 L937.4 732.4 L938.0 731.8 L938.6 732.4 L939.2 731.9 L939.8 731.3 L940.4 731.4 L941.0 729.3 L941.6 731.5 L942.2 729.9 L942.8 729.6 L943.4 727.9 L944.0 725.0 L944.6 726.5 L945.2 725.0 L945.8 725.3 L946.4 724.1 L947.0 724.2 L947.6 722.0 L948.2 721.8 L948.8 721.5 L949.3 720.1 L949.9 719.7 L950.5 720.1 L951.1 720.7 L951.7 717.9 L952.3 718.3 L952.9 715.6 L953.5 715.6 L954.1 715.7 L954.7 715.3 L955.3 713.0 L955.9 714.0 L956.4 712.8 L957.0 713.3 L957.6 712.3 L958.2 711.2 L958.8 709.6 L959.4 709.6 L960.0 707.7 L960.6 707.1 L961.2 705.4 L961.8 705.2" stroke-width="5.47"/><path d="M961.8 705.2 L962.3 704.6 L962.9 705.1 L963.5 704.6 L964.1 702.5 L964.7 703.1 L965.3 702.9 L965.9 702.7 L966.5 701.0 L967.0 700.6 L967.6 699.4 L968.2 700.0 L968.8 696.8 L969.4 697.9 L970.0 695.2 L970.6 698.0 L971.1 696.6 L971.7 693.1 L972.3 693.7 L972.9 692.2 L973.5 691.1 L974.1 691.8 L974.6 690.7 L975.2 691.9 L975.8 689.6 L976.4 688.4 L977.0 688.7 L977.6 688.5 L978.2 688.2 L978.7 687.2 L979.3 684.6 L979.9 684.5 L980.5 684.5 L981.1 683.2 L981.6 684.0 L982.2 682.3 L982.8 681.9 L983.4 680.9 L984.0 680.6 L984.6 678.4 L985.1 681.0 L985.7 677.9 L986.3 677.1 L986.9 675.3 L987.5 676.3 L988.0 674.4 L988.6 675.4 L989.2 675.5 L989.8 674.3 L990.3 672.5 L990.9 673.6 L991.5 671.4 L992.1 670.9 L992.7 670.3 L993.2 669.1 L993.8 669.3 L994.4 666.9 L995.0 665.7 L995.5 668.0 L996.1 665.4 L996.7 665.0" stroke-width="5.43"/><path d="M996.7 665.0 L997.3 665.0 L997.9 663.5 L998.4 662.1 L999.0 662.4 L999.6 661.0 L1000.2 661.8 L1000.7 660.1 L1001.3 659.6 L1001.9 659.9 L1002.5 657.0 L1003.0 656.3 L1003.6 657.8 L1004.2 657.6 L1004.7 655.8 L1005.3 654.3 L1005.9 655.5 L1006.5 654.1 L1007.0 653.9 L1007.6 650.5 L1008.2 651.4 L1008.8 649.8 L1009.3 649.1 L1009.9 650.0 L1010.5 649.4 L1011.0 647.6 L1011.6 647.1 L1012.2 648.0 L1012.8 646.6 L1013.3 645.2 L1013.9 645.1 L1014.5 644.0 L1015.0 642.0 L1015.6 642.0 L1016.2 642.1 L1016.7 641.7 L1017.3 639.3 L1017.9 638.9 L1018.5 638.4 L1019.0 636.9 L1019.6 638.6 L1020.2 637.3 L1020.7 637.4 L1021.3 633.8 L1021.9 634.1 L1022.4 635.8 L1023.0 632.1 L1023.6 631.0 L1024.1 632.2 L1024.7 632.8 L1025.3 631.2 L1025.9 629.0 L1026.4 629.8 L1027.0 628.9 L1027.6 628.1 L1028.1 627.5 L1028.7 627.2 L1029.3 626.8 L1029.8 626.3 L1030.4 625.3 L1031.0 623.5" stroke-width="5.39"/><path d="M1031.0 623.5 L1031.6 621.3 L1032.1 622.8 L1032.7 620.2 L1033.3 622.6 L1033.8 619.1 L1034.4 617.8 L1035.0 617.1 L1035.6 618.5 L1036.1 617.7 L1036.7 617.3 L1037.3 616.3 L1037.9 614.6 L1038.4 615.4 L1039.0 613.3 L1039.6 611.9 L1040.1 613.4 L1040.7 612.3 L1041.3 610.3 L1041.9 610.3 L1042.4 610.7 L1043.0 609.9 L1043.6 607.4 L1044.2 608.7 L1044.8 605.4 L1045.3 606.4 L1045.9 606.0 L1046.5 604.9 L1047.1 604.4 L1047.6 602.2 L1048.2 602.8 L1048.8 602.7 L1049.4 600.7 L1050.0 601.0 L1050.6 600.0 L1051.1 597.9 L1051.7 598.2 L1052.3 598.6 L1052.9 596.0 L1053.5 596.7 L1054.1 596.3 L1054.6 594.2 L1055.2 594.5 L1055.8 594.8 L1056.4 593.9 L1057.0 591.8 L1057.6 592.8 L1058.2 591.6 L1058.8 590.7 L1059.4 591.2 L1060.0 589.9 L1060.6 588.9 L1061.1 588.7 L1061.7 587.8 L1062.3 587.6 L1062.9 585.8 L1063.5 583.7 L1064.1 585.9 L1064.7 584.5 L1065.3 583.6 L1065.9 582.6" stroke-width="5.35"/><path d="M1065.9 582.6 L1066.5 581.8 L1067.1 581.3 L1067.7 579.7 L1068.3 580.5 L1068.9 579.2 L1069.6 577.7 L1070.2 578.1 L1070.8 576.9 L1071.4 576.5 L1072.0 576.3 L1072.6 576.7 L1073.2 573.6 L1073.8 574.2 L1074.4 573.8 L1075.1 572.9 L1075.7 573.2 L1076.3 570.9 L1076.9 570.3 L1077.5 569.9 L1078.2 568.2 L1078.8 569.6 L1079.4 567.0 L1080.0 567.8 L1080.7 567.7 L1081.3 565.4 L1081.9 565.3 L1082.5 564.6 L1083.2 565.6 L1083.8 563.7 L1084.4 561.4 L1085.1 563.1 L1085.7 562.4 L1086.3 559.5 L1087.0 558.8 L1087.6 561.2 L1088.3 559.1 L1088.9 556.9 L1089.6 558.7 L1090.2 558.3 L1090.8 555.1 L1091.5 556.9 L1092.1 555.9 L1092.8 554.7 L1093.4 553.5 L1094.1 553.7 L1094.8 552.2 L1095.4 552.3 L1096.1 551.4 L1096.7 550.6 L1097.4 550.8 L1098.0 550.5 L1098.7 549.8 L1099.4 548.9 L1100.0 549.3 L1100.7 546.3 L1101.4 546.8 L1102.0 546.3 L1102.7 546.5 L1103.4 543.5 L1104.1 544.0" stroke-width="5.32"/><path d="M1104.1 544.0 L1104.7 543.5 L1105.4 543.3 L1106.1 544.0 L1106.8 542.1 L1107.5 541.3 L1108.1 541.1 L1108.8 541.0 L1109.5 539.5 L1110.2 540.4 L1110.9 537.5 L1111.6 538.9 L1112.3 537.9 L1113.0 537.5 L1113.7 537.4 L1114.4 535.4 L1115.1 535.4 L1115.8 534.7 L1116.5 533.4 L1117.2 532.8 L1117.9 532.2 L1118.6 532.9 L1119.3 530.3 L1120.0 530.1 L1120.7 530.6 L1121.4 531.1 L1122.1 529.4 L1122.9 529.9 L1123.6 528.4 L1124.3 527.5 L1125.0 526.1 L1125.8 526.9 L1126.5 527.6 L1127.2 525.8 L1127.9 524.4 L1128.7 525.1 L1129.4 523.1 L1130.1 522.8 L1130.9 524.0 L1131.6 522.9 L1132.4 522.9 L1133.1 521.8 L1133.9 521.0 L1134.6 520.7 L1135.3 519.9 L1136.1 520.4 L1136.9 518.1 L1137.6 517.2 L1138.4 517.5 L1139.1 518.3 L1139.9 516.8 L1140.6 515.3 L1141.4 517.6 L1142.2 515.0 L1142.9 515.1 L1143.7 515.2 L1144.5 514.6 L1145.3 513.8 L1146.0 512.2 L1146.8 513.4 L1147.6 511.8" stroke-width="5.28"/><path d="M1147.6 511.8 L1148.4 511.9 L1149.2 512.2 L1149.9 510.9 L1150.7 509.4 L1151.5 509.9 L1152.3 510.3 L1153.1 510.0 L1153.9 508.0 L1154.7 508.6 L1155.5 508.4 L1156.3 508.6 L1157.1 507.7 L1157.9 507.1 L1158.7 506.3 L1159.5 506.5 L1160.3 506.4 L1161.1 505.3 L1161.9 504.8 L1162.7 505.9 L1163.6 504.2 L1164.4 503.3 L1165.2 504.0 L1166.0 502.2 L1166.8 502.0 L1167.7 503.1 L1168.5 502.1 L1169.3 502.3 L1170.2 501.9 L1171.0 500.5 L1171.8 501.1 L1172.7 500.1 L1173.5 500.2 L1174.3 499.9 L1175.2 499.3 L1176.0 498.1 L1176.9 499.0 L1177.7 498.5 L1178.6 498.5 L1179.4 497.1 L1180.3 497.7 L1181.1 497.1 L1182.0 496.7 L1182.8 496.5 L1183.7 496.3 L1184.6 495.2 L1185.4 495.5 L1186.3 495.3 L1187.1 495.8 L1188.0 495.1 L1188.9 496.0 L1189.7 495.1 L1190.6 494.7 L1191.5 494.4 L1192.4 493.0 L1193.2 494.1 L1194.1 494.5 L1195.0 492.7 L1195.9 494.2 L1196.7 493.5 L1197.6 493.0" stroke-width="5.25"/><path d="M1197.6 493.0 L1198.5 492.3 L1199.4 492.5 L1200.3 491.7 L1201.2 492.1 L1202.0 492.0 L1202.9 491.9 L1203.8 490.8 L1204.7 492.2 L1205.6 490.9 L1206.5 491.6 L1207.4 491.6 L1208.3 490.9 L1209.2 492.2 L1210.1 490.9 L1211.0 491.0 L1211.8 490.4 L1212.7 490.8 L1213.6 489.6 L1214.5 490.8 L1215.4 490.0 L1216.3 489.9 L1217.2 490.7 L1218.1 490.8 L1219.0 489.8 L1219.9 489.3 L1220.8 488.7 L1221.7 489.3 L1222.6 490.3 L1223.5 490.4 L1224.4 489.0 L1225.3 489.9 L1226.2 490.6 L1227.1 489.4 L1228.0 489.5 L1228.9 489.3 L1229.8 490.2 L1230.7 488.7 L1231.6 489.9 L1232.5 490.4 L1233.4 490.0 L1234.3 490.8 L1235.2 490.6 L1236.1 489.9 L1237.0 489.6 L1237.9 489.6 L1238.8 490.7 L1239.7 490.4 L1240.6 490.6 L1241.5 490.0 L1242.4 491.5 L1243.3 491.4 L1244.2 491.4 L1245.1 490.2 L1246.0 492.4 L1246.9 491.8 L1247.8 490.6 L1248.7 492.1 L1249.5 491.5 L1250.4 491.2 L1251.3 491.3" stroke-width="5.22"/><path d="M1251.3 491.3 L1252.2 492.3 L1253.1 492.3 L1254.0 492.4 L1254.9 492.2 L1255.8 491.8 L1256.7 492.8 L1257.5 492.6 L1258.4 492.8 L1259.3 493.5 L1260.2 494.4 L1261.1 493.0 L1262.0 494.3 L1262.9 493.3 L1263.7 494.6 L1264.6 494.6 L1265.5 494.4 L1266.4 494.7 L1267.3 494.2 L1268.1 494.7 L1269.0 495.7 L1269.9 495.8 L1270.8 496.7 L1271.7 495.1 L1272.5 495.6 L1273.4 496.2 L1274.3 496.4 L1275.2 496.2 L1276.0 496.5 L1276.9 496.9 L1277.8 498.0 L1278.6 497.4 L1279.5 497.2 L1280.4 498.1 L1281.3 496.9 L1282.1 497.8 L1283.0 498.2 L1283.9 499.0 L1284.7 497.9 L1285.6 499.2 L1286.5 498.9 L1287.3 500.4 L1288.2 500.5 L1289.1 500.0 L1289.9 500.8 L1290.8 500.0 L1291.7 501.2 L1292.5 501.4 L1293.4 502.2 L1294.2 501.5 L1295.1 500.9 L1296.0 502.8 L1296.8 501.9 L1297.7 502.5 L1298.6 502.9 L1299.4 504.4 L1300.3 503.6 L1301.1 504.6 L1302.0 504.2 L1302.9 503.5 L1303.7 505.0" stroke-width="5.14"/><path d="M1303.7 505.0 L1304.6 505.3 L1305.4 504.9 L1306.3 504.5 L1307.2 506.9 L1308.0 507.1 L1308.9 506.5 L1309.7 506.9 L1310.6 507.4 L1311.4 507.5 L1312.3 506.5 L1313.2 506.8 L1314.0 508.4 L1314.9 509.0 L1315.7 509.1 L1316.6 509.3 L1317.4 509.0 L1318.3 509.9 L1319.2 510.5 L1320.0 510.2 L1320.9 510.9 L1321.7 511.1 L1322.6 510.3 L1323.4 511.7 L1324.3 510.8 L1325.1 511.0 L1326.0 512.7 L1326.9 511.1 L1327.7 512.2 L1328.6 513.2 L1329.4 513.1 L1330.3 513.0 L1331.1 513.0 L1332.0 514.1 L1332.8 514.4 L1333.7 514.3 L1334.5 514.1 L1335.4 514.1 L1336.2 515.3 L1337.1 515.5 L1337.9 516.3 L1338.8 516.0 L1339.6 516.9 L1340.5 516.0 L1341.3 516.0 L1342.2 517.8 L1343.1 517.3 L1343.9 517.4 L1344.8 518.0 L1345.6 517.7 L1346.5 518.4 L1347.4 518.1 L1348.2 519.2 L1349.1 519.0 L1350.0 519.5 L1350.8 519.8 L1351.7 520.2 L1352.6 519.3 L1353.5 520.5 L1354.3 520.5 L1355.2 520.2" stroke-width="5.04"/><path d="M1355.2 520.2 L1356.1 520.9 L1357.0 521.5 L1357.8 521.7 L1358.7 522.7 L1359.6 521.7 L1360.5 522.2 L1361.3 523.3 L1362.2 522.3 L1363.1 522.4 L1363.9 522.8 L1364.8 522.9 L1365.7 523.5 L1366.6 523.8 L1367.4 523.5 L1368.3 523.6 L1369.2 524.4 L1370.0 524.0 L1370.9 524.4 L1371.8 525.2 L1372.7 525.2 L1373.6 524.9 L1374.4 524.8 L1375.3 525.2 L1376.2 525.0 L1377.1 526.0 L1378.0 526.1 L1378.9 526.0 L1379.8 526.1 L1380.7 525.9 L1381.6 526.5 L1382.4 526.6 L1383.3 526.8 L1384.2 526.8 L1385.0 526.7 L1385.9 527.7 L1386.8 527.9 L1387.7 527.4 L1388.5 528.1 L1389.4 528.5 L1390.3 529.0 L1391.1 528.1 L1392.0 528.5 L1392.9 528.7 L1393.7 529.0 L1394.6 529.3 L1395.5 530.5 L1396.3 529.8 L1397.2 531.5 L1398.1 530.9 L1399.0 531.4 L1399.8 531.2 L1400.7 531.9 L1401.6 531.9 L1402.4 532.3 L1403.3 532.4 L1404.2 532.7 L1405.1 532.8 L1405.9 533.3 L1406.8 533.0 L1407.7 533.0" stroke-width="4.94"/><path d="M1407.7 533.0 L1408.6 534.2 L1409.4 533.4 L1410.3 534.0 L1411.2 534.9 L1412.1 533.9 L1412.9 534.3 L1413.8 534.3 L1414.7 534.3 L1415.6 535.3 L1416.5 535.0 L1417.4 535.4 L1418.2 534.6 L1419.1 535.9 L1420.0 535.4 L1420.9 535.0 L1421.8 535.7 L1422.7 535.4 L1423.6 537.1 L1424.5 535.6 L1425.4 536.6 L1426.3 536.1 L1427.2 536.2 L1428.1 536.1 L1429.0 537.3 L1429.9 536.3 L1430.8 536.6 L1431.7 537.0 L1432.6 536.7 L1433.5 537.3 L1434.4 536.6 L1435.3 536.2 L1436.2 537.2 L1437.1 537.6 L1438.0 537.2 L1438.9 536.6 L1439.7 537.5 L1440.6 537.3 L1441.5 536.7 L1442.4 537.0 L1443.3 536.8 L1444.2 536.8 L1445.1 537.0 L1446.0 537.0 L1446.9 536.6 L1447.8 536.5 L1448.7 535.5 L1449.6 535.9 L1450.5 536.5 L1451.4 535.8 L1452.3 536.3 L1453.2 536.0 L1454.1 536.0 L1455.0 536.0 L1455.9 536.5 L1456.8 536.0 L1457.7 535.7 L1458.6 535.0 L1459.5 535.7 L1460.4 534.9 L1461.3 535.9" stroke-width="4.90"/><path d="M1461.3 535.9 L1462.2 534.9 L1463.1 534.8 L1464.0 534.9 L1464.9 534.4 L1465.8 535.0 L1466.6 534.8 L1467.5 534.2 L1468.4 534.1 L1469.3 535.1 L1470.2 534.6 L1471.1 534.1 L1472.0 533.9 L1472.8 534.3 L1473.7 533.2 L1474.6 533.1 L1475.5 532.9 L1476.4 532.3 L1477.2 532.2 L1478.1 533.3 L1479.0 532.3 L1479.9 531.6 L1480.7 531.6 L1481.6 531.3 L1482.5 531.1 L1483.4 531.1 L1484.2 530.1 L1485.1 529.7 L1486.0 530.3 L1486.8 530.0 L1487.7 529.3 L1488.5 529.5 L1489.4 529.0 L1490.3 529.1 L1491.1 528.7 L1492.0 529.0 L1492.8 528.8 L1493.7 528.2 L1494.5 527.6 L1495.3 527.6 L1496.2 527.2 L1497.0 526.8 L1497.8 526.6 L1498.7 525.6 L1499.5 525.8 L1500.3 525.3 L1501.1 524.9 L1501.9 524.3 L1502.8 523.8 L1503.6 523.8 L1504.4 522.9 L1505.2 522.3 L1506.0 523.2 L1506.8 522.6 L1507.6 521.3 L1508.4 521.9 L1509.2 519.9 L1510.1 520.8 L1510.9 520.4 L1511.7 519.8 L1512.5 519.2" stroke-width="4.90"/><path d="M1512.5 519.2 L1513.3 519.3 L1514.1 518.7 L1514.9 517.6 L1515.7 517.4 L1516.5 517.8 L1517.3 517.2 L1518.1 515.9 L1518.9 515.4 L1519.7 515.9 L1520.5 514.8 L1521.3 514.4 L1522.1 514.1 L1522.9 514.1 L1523.7 512.6 L1524.5 513.4 L1525.2 512.4 L1526.0 512.6 L1526.8 511.2 L1527.6 510.8 L1528.3 511.0 L1529.1 510.8 L1529.9 509.8 L1530.7 509.2 L1531.4 509.6 L1532.2 509.0 L1533.0 508.1 L1533.7 507.4 L1534.5 507.7 L1535.3 506.9 L1536.0 506.0 L1536.8 506.4 L1537.6 505.7 L1538.4 504.8 L1539.1 504.5 L1539.9 504.2 L1540.7 503.1 L1541.4 502.3 L1542.2 502.9 L1542.9 501.1 L1543.7 500.7 L1544.5 500.3 L1545.2 500.7 L1546.0 500.5 L1546.8 499.2 L1547.5 499.7 L1548.3 499.4 L1549.1 498.8 L1549.9 497.1 L1550.7 497.9 L1551.5 497.7 L1552.2 496.0 L1553.0 495.2 L1553.8 496.2 L1554.6 495.4 L1555.4 494.7 L1556.2 494.3 L1557.0 493.1 L1557.9 493.1 L1558.7 493.2 L1559.5 493.0" stroke-width="4.90"/><path d="M1559.5 493.0 L1560.3 492.8 L1561.1 492.4 L1561.9 491.3 L1562.7 491.1 L1563.5 491.5 L1564.3 489.8 L1565.2 490.3 L1566.0 489.2 L1566.8 489.4 L1567.6 489.8 L1568.4 488.7 L1569.2 487.9 L1570.1 487.4 L1570.9 486.7 L1571.7 487.0 L1572.5 485.7 L1573.3 486.3 L1574.2 486.0 L1575.0 485.1 L1575.8 484.8 L1576.6 485.4 L1577.5 485.1 L1578.3 485.0 L1579.1 484.3 L1579.9 483.5 L1580.7 482.9 L1581.6 483.2 L1582.4 482.6 L1583.2 482.0 L1584.0 482.4 L1584.8 481.1 L1585.7 480.9 L1586.5 480.9 L1587.3 480.3 L1588.1 479.7 L1588.9 479.8 L1589.8 479.8 L1590.6 478.4 L1591.4 478.5 L1592.2 478.0 L1593.1 477.6 L1593.9 477.9 L1594.7 476.7 L1595.6 477.2 L1596.4 475.6 L1597.2 475.8 L1598.0 475.0 L1598.9 475.2 L1599.7 475.1 L1600.6 474.7 L1601.4 474.2 L1602.2 473.6 L1603.1 472.9 L1603.9 473.6 L1604.8 472.9 L1605.6 473.2 L1606.5 471.5 L1607.4 471.9 L1608.2 471.0 L1609.1 472.1" stroke-width="4.90"/><path d="M1609.1 472.1 L1610.0 471.0 L1610.8 470.7 L1611.7 471.5 L1612.6 470.9 L1613.5 471.0 L1614.4 470.8 L1615.3 471.5 L1616.2 471.2 L1617.1 471.3 L1618.0 471.3 L1618.9 471.8 L1619.8 471.9 L1620.7 471.2 L1621.6 471.8 L1622.5 470.6 L1623.4 470.9 L1624.3 470.9 L1625.2 470.7 L1626.1 471.2 L1627.0 470.2 L1627.9 470.0 L1628.8 470.7 L1629.6 470.0 L1630.5 470.3 L1631.4 470.1 L1632.3 469.5 L1633.1 469.4 L1634.0 469.8 L1634.9 469.2 L1635.8 469.1 L1636.7 469.3 L1637.6 468.7 L1638.5 468.4 L1639.4 468.9 L1640.3 469.9 L1641.2 469.6 L1642.1 470.3 L1643.0 470.0 L1643.9 470.1 L1644.7 469.6 L1645.6 469.2 L1646.5 469.4 L1647.3 470.6 L1648.2 470.7 L1649.0 471.0 L1649.5 471.5" stroke-width="4.90"/></g>
</g>
<line x1="1263.2" y1="325.2" x2="1279.1" y2="385.3" stroke="#000" stroke-width="1.9"/><polygon points="1285.0,407.5 1271.8,385.1 1285.4,381.5" fill="#000"/>
<line x1="1120.4" y1="378.3" x2="1223.9" y2="435.3" stroke="#000" stroke-width="1.6"/><polygon points="1245.8,447.4 1219.1,439.9 1225.2,428.9" fill="#000"/>
<line x1="1066.8" y1="433.3" x2="1235.3" y2="466.5" stroke="#000" stroke-width="1.6"/><polygon points="1260.4,471.4 1232.1,472.3 1234.5,459.8" fill="#000"/>
<line x1="1286.3" y1="579.3" x2="1292.8" y2="505.8" stroke="#000" stroke-width="1.9"/><polygon points="1294.7,483.9 1299.9,508.4 1285.3,507.2" fill="#000"/>
<line x1="1165.0" y1="671.7" x2="1196.8" y2="517.9" stroke="#000" stroke-width="1.9"/><polygon points="1201.4,495.9 1203.7,521.4 1189.2,518.4" fill="#000"/>
<text transform="matrix(0.3409 0 0 0.3140 1214.87 323.07)" font-family='"Liberation Serif", serif' font-weight="bold" font-size="100" fill="#000">162.25°C</text>
<text transform="matrix(0.3403 0 0 0.3060 1028.88 369.89)" font-family='"Liberation Serif", serif' font-weight="bold" font-size="100" fill="#000">155.57°C</text>
<text transform="matrix(0.3422 0 0 0.3147 941.56 435.47)" font-family='"Liberation Serif", serif' font-weight="bold" font-size="100" fill="#000">158.73°C</text>
<text transform="matrix(0.3411 0 0 0.3074 1226.97 608.09)" font-family='"Liberation Serif", serif' font-weight="bold" font-size="100" fill="#000">163.31°C</text>
<text transform="matrix(0.3422 0 0 0.3000 1093.46 700.00)" font-family='"Liberation Serif", serif' font-weight="bold" font-size="100" fill="#000">150.45°C</text>
</svg>
</body></html>
